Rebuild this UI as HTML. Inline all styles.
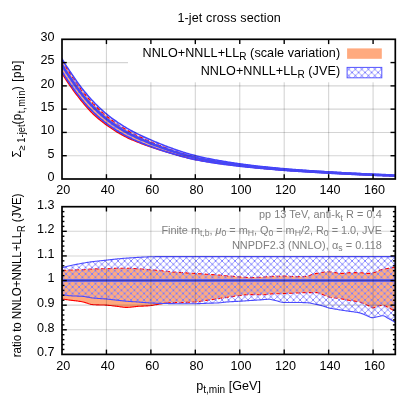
<!DOCTYPE html>
<html><head><meta charset="utf-8"><title>1-jet cross section</title>
<style>
html,body{margin:0;padding:0;background:#fff;}
svg{display:block;will-change:transform;}
text{font-family:"Liberation Sans",sans-serif;font-size:12.6px;fill:#000;}
.g{fill:#7f7f7f;}
</style></head><body>
<svg width="407" height="407" viewBox="0 0 407 407">
<rect width="407" height="407" fill="#fff"/>
<defs>
<pattern id="hx" width="6.5" height="6.5" patternUnits="userSpaceOnUse" x="1.1" y="0.96">
<path d="M-1,-1 L7.5,7.5 M-1,7.5 L7.5,-1" stroke="#9090ff" stroke-width="0.88" fill="none"/>
<path d="M3.25,2.35 l0.9,0.9 l-0.9,0.9 l-0.9,-0.9z M0,-0.9 l0.9,0.9 l-0.9,0.9 l-0.9,-0.9z M6.5,-0.9 l0.9,0.9 l-0.9,0.9 l-0.9,-0.9z M0,5.6 l0.9,0.9 l-0.9,0.9 l-0.9,-0.9z M6.5,5.6 l0.9,0.9 l-0.9,0.9 l-0.9,-0.9z" fill="#6262ff"/>
</pattern>
<clipPath id="c1"><rect x="62.0" y="39.3" width="333.3" height="139.7"/></clipPath>
<clipPath id="c2"><rect x="62.0" y="206.7" width="333.3" height="147.7"/></clipPath>
</defs>

<g clip-path="url(#c1)">
<path d="M62.00,60.23 L63.11,62.11 L64.22,63.96 L65.33,65.79 L66.44,67.59 L67.56,69.37 L68.67,71.13 L69.78,72.87 L70.89,74.59 L72.00,76.28 L73.11,77.95 L74.22,79.61 L75.33,81.25 L76.44,82.88 L77.55,84.48 L78.67,86.06 L79.78,87.60 L80.89,89.11 L82.00,90.59 L83.11,92.02 L84.22,93.40 L85.33,94.74 L86.44,96.06 L87.55,97.35 L88.66,98.62 L89.78,99.87 L90.89,101.10 L92.00,102.30 L93.11,103.49 L94.22,104.66 L95.33,105.81 L96.44,106.94 L97.55,108.04 L98.66,109.12 L99.77,110.18 L100.89,111.21 L102.00,112.22 L103.11,113.21 L104.22,114.18 L105.33,115.12 L106.44,116.05 L107.55,116.94 L108.66,117.82 L109.77,118.68 L110.88,119.52 L112.00,120.34 L113.11,121.15 L114.22,121.94 L115.33,122.72 L116.44,123.48 L117.55,124.24 L118.66,124.98 L119.77,125.71 L120.88,126.43 L121.99,127.13 L123.10,127.82 L124.22,128.49 L125.33,129.16 L126.44,129.81 L127.55,130.45 L128.66,131.09 L129.77,131.71 L130.88,132.32 L131.99,132.92 L133.10,133.51 L134.22,134.09 L135.33,134.65 L136.44,135.21 L137.55,135.75 L138.66,136.29 L139.77,136.82 L140.88,137.34 L141.99,137.86 L143.10,138.37 L144.21,138.88 L145.32,139.38 L146.44,139.88 L147.55,140.37 L148.66,140.85 L149.77,141.34 L150.88,141.82 L151.99,142.30 L153.10,142.77 L154.21,143.23 L155.32,143.70 L156.44,144.15 L157.55,144.60 L158.66,145.05 L159.77,145.49 L160.88,145.92 L161.99,146.36 L163.10,146.78 L164.21,147.21 L165.32,147.63 L166.43,148.04 L167.55,148.45 L168.66,148.85 L169.77,149.25 L170.88,149.64 L171.99,150.03 L173.10,150.41 L174.21,150.79 L175.32,151.17 L176.43,151.55 L177.54,151.92 L178.66,152.28 L179.77,152.64 L180.88,153.00 L181.99,153.35 L183.10,153.69 L184.21,154.03 L185.32,154.36 L186.43,154.69 L187.54,155.01 L188.65,155.32 L189.77,155.63 L190.88,155.93 L191.99,156.22 L193.10,156.51 L194.21,156.78 L195.32,157.05 L196.43,157.32 L197.54,157.58 L198.65,157.83 L199.76,158.08 L200.88,158.33 L201.99,158.57 L203.10,158.81 L204.21,159.04 L205.32,159.27 L206.43,159.49 L207.54,159.71 L208.65,159.93 L209.76,160.14 L210.87,160.35 L211.99,160.56 L213.10,160.76 L214.21,160.97 L215.32,161.16 L216.43,161.36 L217.54,161.55 L218.65,161.74 L219.76,161.93 L220.87,162.11 L221.98,162.30 L223.09,162.48 L224.21,162.66 L225.32,162.83 L226.43,163.00 L227.54,163.17 L228.65,163.34 L229.76,163.51 L230.87,163.67 L231.98,163.83 L233.09,163.99 L234.21,164.15 L235.32,164.31 L236.43,164.46 L237.54,164.62 L238.65,164.77 L239.76,164.91 L240.87,165.06 L241.98,165.21 L243.09,165.35 L244.20,165.50 L245.32,165.64 L246.43,165.77 L247.54,165.91 L248.65,166.04 L249.76,166.17 L250.87,166.30 L251.98,166.42 L253.09,166.55 L254.20,166.67 L255.31,166.78 L256.43,166.90 L257.54,167.01 L258.65,167.13 L259.76,167.24 L260.87,167.35 L261.98,167.46 L263.09,167.57 L264.20,167.67 L265.31,167.78 L266.42,167.88 L267.54,167.98 L268.65,168.09 L269.76,168.19 L270.87,168.29 L271.98,168.38 L273.09,168.48 L274.20,168.58 L275.31,168.68 L276.42,168.77 L277.53,168.87 L278.64,168.96 L279.76,169.06 L280.87,169.15 L281.98,169.24 L283.09,169.33 L284.20,169.42 L285.31,169.51 L286.42,169.60 L287.53,169.69 L288.64,169.78 L289.75,169.87 L290.87,169.96 L291.98,170.04 L293.09,170.12 L294.20,170.21 L295.31,170.29 L296.42,170.36 L297.53,170.44 L298.64,170.52 L299.75,170.59 L300.87,170.67 L301.98,170.74 L303.09,170.81 L304.20,170.89 L305.31,170.96 L306.42,171.03 L307.53,171.09 L308.64,171.15 L309.75,171.21 L310.86,171.26 L311.98,171.32 L313.09,171.38 L314.20,171.44 L315.31,171.50 L316.42,171.56 L317.53,171.62 L318.64,171.69 L319.75,171.75 L320.86,171.81 L321.97,171.87 L323.08,171.93 L324.20,171.99 L325.31,172.06 L326.42,172.12 L327.53,172.18 L328.64,172.25 L329.75,172.31 L330.86,172.38 L331.97,172.45 L333.08,172.52 L334.19,172.59 L335.31,172.65 L336.42,172.72 L337.53,172.78 L338.64,172.85 L339.75,172.91 L340.86,172.98 L341.97,173.04 L343.08,173.09 L344.19,173.15 L345.31,173.21 L346.42,173.26 L347.53,173.32 L348.64,173.37 L349.75,173.43 L350.86,173.48 L351.97,173.54 L353.08,173.60 L354.19,173.65 L355.30,173.71 L356.42,173.76 L357.53,173.81 L358.64,173.87 L359.75,173.92 L360.86,173.98 L361.97,174.03 L363.08,174.08 L364.19,174.14 L365.30,174.19 L366.41,174.24 L367.52,174.30 L368.64,174.35 L369.75,174.40 L370.86,174.44 L371.97,174.49 L373.08,174.53 L374.19,174.57 L375.30,174.62 L376.41,174.66 L377.52,174.70 L378.63,174.74 L379.75,174.78 L380.86,174.82 L381.97,174.86 L383.08,174.90 L384.19,174.95 L385.30,174.99 L386.41,175.03 L387.52,175.08 L388.63,175.12 L389.75,175.16 L390.86,175.20 L391.97,175.24 L393.08,175.29 L394.19,175.33 L395.30,175.37 L395.30,175.99 L394.19,175.94 L393.08,175.90 L391.97,175.85 L390.86,175.80 L389.75,175.76 L388.63,175.71 L387.52,175.66 L386.41,175.62 L385.30,175.57 L384.19,175.52 L383.08,175.48 L381.97,175.44 L380.86,175.40 L379.75,175.36 L378.63,175.32 L377.52,175.29 L376.41,175.26 L375.30,175.22 L374.19,175.19 L373.08,175.15 L371.97,175.10 L370.86,175.05 L369.75,175.00 L368.64,174.94 L367.52,174.89 L366.41,174.83 L365.30,174.78 L364.19,174.72 L363.08,174.67 L361.97,174.62 L360.86,174.56 L359.75,174.51 L358.64,174.46 L357.53,174.41 L356.42,174.35 L355.30,174.30 L354.19,174.25 L353.08,174.20 L351.97,174.15 L350.86,174.09 L349.75,174.04 L348.64,173.98 L347.53,173.93 L346.42,173.87 L345.31,173.81 L344.19,173.75 L343.08,173.70 L341.97,173.64 L340.86,173.58 L339.75,173.52 L338.64,173.46 L337.53,173.40 L336.42,173.34 L335.31,173.29 L334.19,173.23 L333.08,173.17 L331.97,173.11 L330.86,173.04 L329.75,172.98 L328.64,172.92 L327.53,172.85 L326.42,172.78 L325.31,172.71 L324.20,172.63 L323.08,172.56 L321.97,172.49 L320.86,172.41 L319.75,172.34 L318.64,172.26 L317.53,172.19 L316.42,172.13 L315.31,172.06 L314.20,172.00 L313.09,171.94 L311.98,171.87 L310.86,171.81 L309.75,171.74 L308.64,171.68 L307.53,171.61 L306.42,171.54 L305.31,171.48 L304.20,171.41 L303.09,171.34 L301.98,171.28 L300.87,171.21 L299.75,171.14 L298.64,171.07 L297.53,171.00 L296.42,170.93 L295.31,170.86 L294.20,170.79 L293.09,170.71 L291.98,170.64 L290.87,170.57 L289.75,170.49 L288.64,170.41 L287.53,170.33 L286.42,170.25 L285.31,170.17 L284.20,170.09 L283.09,170.01 L281.98,169.92 L280.87,169.84 L279.76,169.75 L278.64,169.67 L277.53,169.58 L276.42,169.49 L275.31,169.40 L274.20,169.31 L273.09,169.22 L271.98,169.13 L270.87,169.04 L269.76,168.95 L268.65,168.85 L267.54,168.76 L266.42,168.67 L265.31,168.58 L264.20,168.48 L263.09,168.38 L261.98,168.28 L260.87,168.17 L259.76,168.07 L258.65,167.96 L257.54,167.85 L256.43,167.74 L255.31,167.63 L254.20,167.51 L253.09,167.40 L251.98,167.28 L250.87,167.17 L249.76,167.05 L248.65,166.93 L247.54,166.81 L246.43,166.70 L245.32,166.58 L244.20,166.46 L243.09,166.34 L241.98,166.22 L240.87,166.09 L239.76,165.97 L238.65,165.84 L237.54,165.72 L236.43,165.59 L235.32,165.46 L234.21,165.33 L233.09,165.20 L231.98,165.07 L230.87,164.93 L229.76,164.80 L228.65,164.66 L227.54,164.52 L226.43,164.38 L225.32,164.24 L224.21,164.10 L223.09,163.95 L221.98,163.81 L220.87,163.66 L219.76,163.51 L218.65,163.36 L217.54,163.21 L216.43,163.05 L215.32,162.89 L214.21,162.73 L213.10,162.56 L211.99,162.39 L210.87,162.22 L209.76,162.05 L208.65,161.87 L207.54,161.69 L206.43,161.51 L205.32,161.33 L204.21,161.14 L203.10,160.95 L201.99,160.76 L200.88,160.57 L199.76,160.37 L198.65,160.17 L197.54,159.96 L196.43,159.75 L195.32,159.53 L194.21,159.30 L193.10,159.06 L191.99,158.82 L190.88,158.57 L189.77,158.32 L188.65,158.06 L187.54,157.79 L186.43,157.52 L185.32,157.24 L184.21,156.95 L183.10,156.66 L181.99,156.36 L180.88,156.06 L179.77,155.76 L178.66,155.45 L177.54,155.13 L176.43,154.82 L175.32,154.50 L174.21,154.17 L173.10,153.85 L171.99,153.52 L170.88,153.19 L169.77,152.86 L168.66,152.53 L167.55,152.20 L166.43,151.87 L165.32,151.54 L164.21,151.21 L163.10,150.88 L161.99,150.54 L160.88,150.21 L159.77,149.87 L158.66,149.52 L157.55,149.17 L156.44,148.82 L155.32,148.46 L154.21,148.11 L153.10,147.74 L151.99,147.37 L150.88,147.00 L149.77,146.61 L148.66,146.22 L147.55,145.83 L146.44,145.43 L145.32,145.02 L144.21,144.61 L143.10,144.20 L141.99,143.78 L140.88,143.36 L139.77,142.94 L138.66,142.50 L137.55,142.07 L136.44,141.63 L135.33,141.18 L134.22,140.73 L133.10,140.27 L131.99,139.80 L130.88,139.33 L129.77,138.83 L128.66,138.32 L127.55,137.80 L126.44,137.26 L125.33,136.70 L124.22,136.12 L123.10,135.52 L121.99,134.91 L120.88,134.28 L119.77,133.64 L118.66,132.98 L117.55,132.32 L116.44,131.65 L115.33,130.96 L114.22,130.25 L113.11,129.54 L112.00,128.80 L110.88,128.05 L109.77,127.29 L108.66,126.52 L107.55,125.73 L106.44,124.94 L105.33,124.12 L104.22,123.30 L103.11,122.45 L102.00,121.59 L100.89,120.71 L99.77,119.81 L98.66,118.89 L97.55,117.94 L96.44,116.98 L95.33,115.99 L94.22,114.98 L93.11,113.95 L92.00,112.88 L90.89,111.76 L89.78,110.59 L88.66,109.38 L87.55,108.14 L86.44,106.87 L85.33,105.58 L84.22,104.27 L83.11,102.94 L82.00,101.60 L80.89,100.23 L79.78,98.84 L78.67,97.42 L77.55,95.97 L76.44,94.51 L75.33,93.02 L74.22,91.52 L73.11,90.00 L72.00,88.46 L70.89,86.90 L69.78,85.31 L68.67,83.69 L67.56,82.05 L66.44,80.39 L65.33,78.70 L64.22,76.98 L63.11,75.24 L62.00,73.47Z" fill="#ffaa7f" stroke="none"/>
<path d="M62.00,73.47 L63.11,75.24 L64.22,76.98 L65.33,78.70 L66.44,80.39 L67.56,82.05 L68.67,83.69 L69.78,85.31 L70.89,86.90 L72.00,88.46 L73.11,90.00 L74.22,91.52 L75.33,93.02 L76.44,94.51 L77.55,95.97 L78.67,97.42 L79.78,98.84 L80.89,100.23 L82.00,101.60 L83.11,102.94 L84.22,104.27 L85.33,105.58 L86.44,106.87 L87.55,108.14 L88.66,109.38 L89.78,110.59 L90.89,111.76 L92.00,112.88 L93.11,113.95 L94.22,114.98 L95.33,115.99 L96.44,116.98 L97.55,117.94 L98.66,118.89 L99.77,119.81 L100.89,120.71 L102.00,121.59 L103.11,122.45 L104.22,123.30 L105.33,124.12 L106.44,124.94 L107.55,125.73 L108.66,126.52 L109.77,127.29 L110.88,128.05 L112.00,128.80 L113.11,129.54 L114.22,130.25 L115.33,130.96 L116.44,131.65 L117.55,132.32 L118.66,132.98 L119.77,133.64 L120.88,134.28 L121.99,134.91 L123.10,135.52 L124.22,136.12 L125.33,136.70 L126.44,137.26 L127.55,137.80 L128.66,138.32 L129.77,138.83 L130.88,139.33 L131.99,139.80 L133.10,140.27 L134.22,140.73 L135.33,141.18 L136.44,141.63 L137.55,142.07 L138.66,142.50 L139.77,142.94 L140.88,143.36 L141.99,143.78 L143.10,144.20 L144.21,144.61 L145.32,145.02 L146.44,145.43 L147.55,145.83 L148.66,146.22 L149.77,146.61 L150.88,147.00 L151.99,147.37 L153.10,147.74 L154.21,148.11 L155.32,148.46 L156.44,148.82 L157.55,149.17 L158.66,149.52 L159.77,149.87 L160.88,150.21 L161.99,150.54 L163.10,150.88 L164.21,151.21 L165.32,151.54 L166.43,151.87 L167.55,152.20 L168.66,152.53 L169.77,152.86 L170.88,153.19 L171.99,153.52 L173.10,153.85 L174.21,154.17 L175.32,154.50 L176.43,154.82 L177.54,155.13 L178.66,155.45 L179.77,155.76 L180.88,156.06 L181.99,156.36 L183.10,156.66 L184.21,156.95 L185.32,157.24 L186.43,157.52 L187.54,157.79 L188.65,158.06 L189.77,158.32 L190.88,158.57 L191.99,158.82 L193.10,159.06 L194.21,159.30 L195.32,159.53 L196.43,159.75 L197.54,159.96 L198.65,160.17 L199.76,160.37 L200.88,160.57 L201.99,160.76 L203.10,160.95 L204.21,161.14 L205.32,161.33 L206.43,161.51 L207.54,161.69 L208.65,161.87 L209.76,162.05 L210.87,162.22 L211.99,162.39 L213.10,162.56 L214.21,162.73 L215.32,162.89 L216.43,163.05 L217.54,163.21 L218.65,163.36 L219.76,163.51 L220.87,163.66 L221.98,163.81 L223.09,163.95 L224.21,164.10 L225.32,164.24 L226.43,164.38 L227.54,164.52 L228.65,164.66 L229.76,164.80 L230.87,164.93 L231.98,165.07 L233.09,165.20 L234.21,165.33 L235.32,165.46 L236.43,165.59 L237.54,165.72 L238.65,165.84 L239.76,165.97 L240.87,166.09 L241.98,166.22 L243.09,166.34 L244.20,166.46 L245.32,166.58 L246.43,166.70 L247.54,166.81 L248.65,166.93 L249.76,167.05 L250.87,167.17 L251.98,167.28 L253.09,167.40 L254.20,167.51 L255.31,167.63 L256.43,167.74 L257.54,167.85 L258.65,167.96 L259.76,168.07 L260.87,168.17 L261.98,168.28 L263.09,168.38 L264.20,168.48 L265.31,168.58 L266.42,168.67 L267.54,168.76 L268.65,168.85 L269.76,168.95 L270.87,169.04 L271.98,169.13 L273.09,169.22 L274.20,169.31 L275.31,169.40 L276.42,169.49 L277.53,169.58 L278.64,169.67 L279.76,169.75 L280.87,169.84 L281.98,169.92 L283.09,170.01 L284.20,170.09 L285.31,170.17 L286.42,170.25 L287.53,170.33 L288.64,170.41 L289.75,170.49 L290.87,170.57 L291.98,170.64 L293.09,170.71 L294.20,170.79 L295.31,170.86 L296.42,170.93 L297.53,171.00 L298.64,171.07 L299.75,171.14 L300.87,171.21 L301.98,171.28 L303.09,171.34 L304.20,171.41 L305.31,171.48 L306.42,171.54 L307.53,171.61 L308.64,171.68 L309.75,171.74 L310.86,171.81 L311.98,171.87 L313.09,171.94 L314.20,172.00 L315.31,172.06 L316.42,172.13 L317.53,172.19 L318.64,172.26 L319.75,172.34 L320.86,172.41 L321.97,172.49 L323.08,172.56 L324.20,172.63 L325.31,172.71 L326.42,172.78 L327.53,172.85 L328.64,172.92 L329.75,172.98 L330.86,173.04 L331.97,173.11 L333.08,173.17 L334.19,173.23 L335.31,173.29 L336.42,173.34 L337.53,173.40 L338.64,173.46 L339.75,173.52 L340.86,173.58 L341.97,173.64 L343.08,173.70 L344.19,173.75 L345.31,173.81 L346.42,173.87 L347.53,173.93 L348.64,173.98 L349.75,174.04 L350.86,174.09 L351.97,174.15 L353.08,174.20 L354.19,174.25 L355.30,174.30 L356.42,174.35 L357.53,174.41 L358.64,174.46 L359.75,174.51 L360.86,174.56 L361.97,174.62 L363.08,174.67 L364.19,174.72 L365.30,174.78 L366.41,174.83 L367.52,174.89 L368.64,174.94 L369.75,175.00 L370.86,175.05 L371.97,175.10 L373.08,175.15 L374.19,175.19 L375.30,175.22 L376.41,175.26 L377.52,175.29 L378.63,175.32 L379.75,175.36 L380.86,175.40 L381.97,175.44 L383.08,175.48 L384.19,175.52 L385.30,175.57 L386.41,175.62 L387.52,175.66 L388.63,175.71 L389.75,175.76 L390.86,175.80 L391.97,175.85 L393.08,175.90 L394.19,175.94 L395.30,175.99" fill="none" stroke="#ff0000" stroke-width="1.3"/>
<path d="M62.00,60.23 L63.11,62.11 L64.22,63.96 L65.33,65.79 L66.44,67.59 L67.56,69.37 L68.67,71.13 L69.78,72.87 L70.89,74.59 L72.00,76.28 L73.11,77.95 L74.22,79.61 L75.33,81.25 L76.44,82.88 L77.55,84.48 L78.67,86.06 L79.78,87.60 L80.89,89.11 L82.00,90.59 L83.11,92.02 L84.22,93.40 L85.33,94.74 L86.44,96.06 L87.55,97.35 L88.66,98.62 L89.78,99.87 L90.89,101.10 L92.00,102.30 L93.11,103.49 L94.22,104.66 L95.33,105.81 L96.44,106.94 L97.55,108.04 L98.66,109.12 L99.77,110.18 L100.89,111.21 L102.00,112.22 L103.11,113.21 L104.22,114.18 L105.33,115.12 L106.44,116.05 L107.55,116.94 L108.66,117.82 L109.77,118.68 L110.88,119.52 L112.00,120.34 L113.11,121.15 L114.22,121.94 L115.33,122.72 L116.44,123.48 L117.55,124.24 L118.66,124.98 L119.77,125.71 L120.88,126.43 L121.99,127.13 L123.10,127.82 L124.22,128.49 L125.33,129.16 L126.44,129.81 L127.55,130.45 L128.66,131.09 L129.77,131.71 L130.88,132.32 L131.99,132.92 L133.10,133.51 L134.22,134.09 L135.33,134.65 L136.44,135.21 L137.55,135.75 L138.66,136.29 L139.77,136.82 L140.88,137.34 L141.99,137.86 L143.10,138.37 L144.21,138.88 L145.32,139.38 L146.44,139.88 L147.55,140.37 L148.66,140.85 L149.77,141.34 L150.88,141.82 L151.99,142.30 L153.10,142.77 L154.21,143.23 L155.32,143.70 L156.44,144.15 L157.55,144.60 L158.66,145.05 L159.77,145.49 L160.88,145.92 L161.99,146.36 L163.10,146.78 L164.21,147.21 L165.32,147.63 L166.43,148.04 L167.55,148.45 L168.66,148.85 L169.77,149.25 L170.88,149.64 L171.99,150.03 L173.10,150.41 L174.21,150.79 L175.32,151.17 L176.43,151.55 L177.54,151.92 L178.66,152.28 L179.77,152.64 L180.88,153.00 L181.99,153.35 L183.10,153.69 L184.21,154.03 L185.32,154.36 L186.43,154.69 L187.54,155.01 L188.65,155.32 L189.77,155.63 L190.88,155.93 L191.99,156.22 L193.10,156.51 L194.21,156.78 L195.32,157.05 L196.43,157.32 L197.54,157.58 L198.65,157.83 L199.76,158.08 L200.88,158.33 L201.99,158.57 L203.10,158.81 L204.21,159.04 L205.32,159.27 L206.43,159.49 L207.54,159.71 L208.65,159.93 L209.76,160.14 L210.87,160.35 L211.99,160.56 L213.10,160.76 L214.21,160.97 L215.32,161.16 L216.43,161.36 L217.54,161.55 L218.65,161.74 L219.76,161.93 L220.87,162.11 L221.98,162.30 L223.09,162.48 L224.21,162.66 L225.32,162.83 L226.43,163.00 L227.54,163.17 L228.65,163.34 L229.76,163.51 L230.87,163.67 L231.98,163.83 L233.09,163.99 L234.21,164.15 L235.32,164.31 L236.43,164.46 L237.54,164.62 L238.65,164.77 L239.76,164.91 L240.87,165.06 L241.98,165.21 L243.09,165.35 L244.20,165.50 L245.32,165.64 L246.43,165.77 L247.54,165.91 L248.65,166.04 L249.76,166.17 L250.87,166.30 L251.98,166.42 L253.09,166.55 L254.20,166.67 L255.31,166.78 L256.43,166.90 L257.54,167.01 L258.65,167.13 L259.76,167.24 L260.87,167.35 L261.98,167.46 L263.09,167.57 L264.20,167.67 L265.31,167.78 L266.42,167.88 L267.54,167.98 L268.65,168.09 L269.76,168.19 L270.87,168.29 L271.98,168.38 L273.09,168.48 L274.20,168.58 L275.31,168.68 L276.42,168.77 L277.53,168.87 L278.64,168.96 L279.76,169.06 L280.87,169.15 L281.98,169.24 L283.09,169.33 L284.20,169.42 L285.31,169.51 L286.42,169.60 L287.53,169.69 L288.64,169.78 L289.75,169.87 L290.87,169.96 L291.98,170.04 L293.09,170.12 L294.20,170.21 L295.31,170.29 L296.42,170.36 L297.53,170.44 L298.64,170.52 L299.75,170.59 L300.87,170.67 L301.98,170.74 L303.09,170.81 L304.20,170.89 L305.31,170.96 L306.42,171.03 L307.53,171.09 L308.64,171.15 L309.75,171.21 L310.86,171.26 L311.98,171.32 L313.09,171.38 L314.20,171.44 L315.31,171.50 L316.42,171.56 L317.53,171.62 L318.64,171.69 L319.75,171.75 L320.86,171.81 L321.97,171.87 L323.08,171.93 L324.20,171.99 L325.31,172.06 L326.42,172.12 L327.53,172.18 L328.64,172.25 L329.75,172.31 L330.86,172.38 L331.97,172.45 L333.08,172.52 L334.19,172.59 L335.31,172.65 L336.42,172.72 L337.53,172.78 L338.64,172.85 L339.75,172.91 L340.86,172.98 L341.97,173.04 L343.08,173.09 L344.19,173.15 L345.31,173.21 L346.42,173.26 L347.53,173.32 L348.64,173.37 L349.75,173.43 L350.86,173.48 L351.97,173.54 L353.08,173.60 L354.19,173.65 L355.30,173.71 L356.42,173.76 L357.53,173.81 L358.64,173.87 L359.75,173.92 L360.86,173.98 L361.97,174.03 L363.08,174.08 L364.19,174.14 L365.30,174.19 L366.41,174.24 L367.52,174.30 L368.64,174.35 L369.75,174.40 L370.86,174.44 L371.97,174.49 L373.08,174.53 L374.19,174.57 L375.30,174.62 L376.41,174.66 L377.52,174.70 L378.63,174.74 L379.75,174.78 L380.86,174.82 L381.97,174.86 L383.08,174.90 L384.19,174.95 L385.30,174.99 L386.41,175.03 L387.52,175.08 L388.63,175.12 L389.75,175.16 L390.86,175.20 L391.97,175.24 L393.08,175.29 L394.19,175.33 L395.30,175.37" fill="none" stroke="#ff0000" stroke-width="1.3" stroke-dasharray="4.2,2.3"/>
<path d="M62.00,58.98 L63.11,60.77 L64.22,62.55 L65.33,64.30 L66.44,66.04 L67.56,67.75 L68.67,69.45 L69.78,71.13 L70.89,72.78 L72.00,74.42 L73.11,76.04 L74.22,77.65 L75.33,79.24 L76.44,80.83 L77.55,82.39 L78.67,83.93 L79.78,85.45 L80.89,86.93 L82.00,88.38 L83.11,89.80 L84.22,91.18 L85.33,92.52 L86.44,93.85 L87.55,95.15 L88.66,96.43 L89.78,97.69 L90.89,98.92 L92.00,100.14 L93.11,101.33 L94.22,102.50 L95.33,103.65 L96.44,104.78 L97.55,105.89 L98.66,106.97 L99.77,108.03 L100.89,109.07 L102.00,110.09 L103.11,111.09 L104.22,112.06 L105.33,113.01 L106.44,113.94 L107.55,114.85 L108.66,115.74 L109.77,116.61 L110.88,117.47 L112.00,118.30 L113.11,119.12 L114.22,119.93 L115.33,120.72 L116.44,121.49 L117.55,122.26 L118.66,123.00 L119.77,123.74 L120.88,124.46 L121.99,125.17 L123.10,125.87 L124.22,126.56 L125.33,127.23 L126.44,127.89 L127.55,128.54 L128.66,129.18 L129.77,129.81 L130.88,130.42 L131.99,131.02 L133.10,131.61 L134.22,132.19 L135.33,132.75 L136.44,133.31 L137.55,133.85 L138.66,134.39 L139.77,134.92 L140.88,135.45 L141.99,135.96 L143.10,136.47 L144.21,136.98 L145.32,137.48 L146.44,137.98 L147.55,138.47 L148.66,138.96 L149.77,139.45 L150.88,139.93 L151.99,140.42 L153.10,140.89 L154.21,141.37 L155.32,141.84 L156.44,142.30 L157.55,142.76 L158.66,143.22 L159.77,143.67 L160.88,144.11 L161.99,144.55 L163.10,144.99 L164.21,145.42 L165.32,145.84 L166.43,146.26 L167.55,146.68 L168.66,147.09 L169.77,147.50 L170.88,147.90 L171.99,148.30 L173.10,148.69 L174.21,149.09 L175.32,149.48 L176.43,149.87 L177.54,150.25 L178.66,150.63 L179.77,151.00 L180.88,151.37 L181.99,151.74 L183.10,152.10 L184.21,152.45 L185.32,152.80 L186.43,153.14 L187.54,153.47 L188.65,153.80 L189.77,154.12 L190.88,154.43 L191.99,154.74 L193.10,155.03 L194.21,155.32 L195.32,155.60 L196.43,155.88 L197.54,156.15 L198.65,156.41 L199.76,156.67 L200.88,156.93 L201.99,157.18 L203.10,157.42 L204.21,157.67 L205.32,157.90 L206.43,158.14 L207.54,158.37 L208.65,158.59 L209.76,158.82 L210.87,159.04 L211.99,159.25 L213.10,159.46 L214.21,159.67 L215.32,159.88 L216.43,160.08 L217.54,160.28 L218.65,160.48 L219.76,160.67 L220.87,160.86 L221.98,161.05 L223.09,161.24 L224.21,161.42 L225.32,161.61 L226.43,161.78 L227.54,161.96 L228.65,162.14 L229.76,162.31 L230.87,162.48 L231.98,162.65 L233.09,162.81 L234.21,162.98 L235.32,163.14 L236.43,163.30 L237.54,163.46 L238.65,163.62 L239.76,163.78 L240.87,163.93 L241.98,164.08 L243.09,164.23 L244.20,164.38 L245.32,164.53 L246.43,164.67 L247.54,164.82 L248.65,164.96 L249.76,165.10 L250.87,165.23 L251.98,165.37 L253.09,165.50 L254.20,165.63 L255.31,165.76 L256.43,165.89 L257.54,166.02 L258.65,166.15 L259.76,166.27 L260.87,166.39 L261.98,166.51 L263.09,166.64 L264.20,166.75 L265.31,166.87 L266.42,166.99 L267.54,167.10 L268.65,167.22 L269.76,167.33 L270.87,167.44 L271.98,167.55 L273.09,167.66 L274.20,167.76 L275.31,167.87 L276.42,167.97 L277.53,168.08 L278.64,168.18 L279.76,168.28 L280.87,168.38 L281.98,168.48 L283.09,168.58 L284.20,168.68 L285.31,168.78 L286.42,168.87 L287.53,168.97 L288.64,169.06 L289.75,169.15 L290.87,169.24 L291.98,169.33 L293.09,169.42 L294.20,169.50 L295.31,169.59 L296.42,169.68 L297.53,169.76 L298.64,169.84 L299.75,169.92 L300.87,170.00 L301.98,170.09 L303.09,170.16 L304.20,170.24 L305.31,170.32 L306.42,170.40 L307.53,170.48 L308.64,170.55 L309.75,170.63 L310.86,170.70 L311.98,170.78 L313.09,170.85 L314.20,170.93 L315.31,171.00 L316.42,171.07 L317.53,171.14 L318.64,171.22 L319.75,171.29 L320.86,171.36 L321.97,171.43 L323.08,171.50 L324.20,171.57 L325.31,171.64 L326.42,171.71 L327.53,171.78 L328.64,171.85 L329.75,171.92 L330.86,171.99 L331.97,172.05 L333.08,172.12 L334.19,172.19 L335.31,172.25 L336.42,172.32 L337.53,172.39 L338.64,172.45 L339.75,172.52 L340.86,172.58 L341.97,172.64 L343.08,172.71 L344.19,172.77 L345.31,172.83 L346.42,172.89 L347.53,172.95 L348.64,173.02 L349.75,173.08 L350.86,173.14 L351.97,173.20 L353.08,173.26 L354.19,173.31 L355.30,173.37 L356.42,173.43 L357.53,173.49 L358.64,173.54 L359.75,173.60 L360.86,173.66 L361.97,173.71 L363.08,173.77 L364.19,173.82 L365.30,173.88 L366.41,173.93 L367.52,173.99 L368.64,174.04 L369.75,174.09 L370.86,174.15 L371.97,174.20 L373.08,174.25 L374.19,174.30 L375.30,174.35 L376.41,174.40 L377.52,174.45 L378.63,174.50 L379.75,174.55 L380.86,174.60 L381.97,174.65 L383.08,174.70 L384.19,174.75 L385.30,174.80 L386.41,174.85 L387.52,174.90 L388.63,174.94 L389.75,174.99 L390.86,175.04 L391.97,175.08 L393.08,175.13 L394.19,175.17 L395.30,175.22 L395.30,176.14 L394.19,176.10 L393.08,176.05 L391.97,176.01 L390.86,175.96 L389.75,175.92 L388.63,175.87 L387.52,175.83 L386.41,175.78 L385.30,175.73 L384.19,175.69 L383.08,175.64 L381.97,175.61 L380.86,175.57 L379.75,175.53 L378.63,175.50 L377.52,175.46 L376.41,175.43 L375.30,175.40 L374.19,175.36 L373.08,175.32 L371.97,175.28 L370.86,175.24 L369.75,175.19 L368.64,175.14 L367.52,175.09 L366.41,175.04 L365.30,174.99 L364.19,174.93 L363.08,174.88 L361.97,174.83 L360.86,174.78 L359.75,174.73 L358.64,174.68 L357.53,174.63 L356.42,174.58 L355.30,174.53 L354.19,174.48 L353.08,174.43 L351.97,174.38 L350.86,174.33 L349.75,174.28 L348.64,174.22 L347.53,174.17 L346.42,174.12 L345.31,174.07 L344.19,174.01 L343.08,173.96 L341.97,173.90 L340.86,173.85 L339.75,173.79 L338.64,173.74 L337.53,173.68 L336.42,173.62 L335.31,173.57 L334.19,173.51 L333.08,173.45 L331.97,173.39 L330.86,173.33 L329.75,173.27 L328.64,173.20 L327.53,173.14 L326.42,173.07 L325.31,173.01 L324.20,172.94 L323.08,172.87 L321.97,172.80 L320.86,172.74 L319.75,172.67 L318.64,172.60 L317.53,172.54 L316.42,172.47 L315.31,172.41 L314.20,172.34 L313.09,172.27 L311.98,172.20 L310.86,172.14 L309.75,172.07 L308.64,172.00 L307.53,171.93 L306.42,171.87 L305.31,171.80 L304.20,171.73 L303.09,171.67 L301.98,171.60 L300.87,171.53 L299.75,171.46 L298.64,171.40 L297.53,171.33 L296.42,171.26 L295.31,171.19 L294.20,171.11 L293.09,171.04 L291.98,170.97 L290.87,170.90 L289.75,170.82 L288.64,170.74 L287.53,170.67 L286.42,170.59 L285.31,170.51 L284.20,170.43 L283.09,170.35 L281.98,170.26 L280.87,170.17 L279.76,170.07 L278.64,169.97 L277.53,169.87 L276.42,169.77 L275.31,169.68 L274.20,169.58 L273.09,169.48 L271.98,169.37 L270.87,169.27 L269.76,169.17 L268.65,169.07 L267.54,168.98 L266.42,168.89 L265.31,168.79 L264.20,168.70 L263.09,168.60 L261.98,168.51 L260.87,168.41 L259.76,168.31 L258.65,168.21 L257.54,168.11 L256.43,168.00 L255.31,167.90 L254.20,167.79 L253.09,167.68 L251.98,167.58 L250.87,167.47 L249.76,167.36 L248.65,167.24 L247.54,167.13 L246.43,167.01 L245.32,166.90 L244.20,166.78 L243.09,166.66 L241.98,166.54 L240.87,166.41 L239.76,166.29 L238.65,166.16 L237.54,166.03 L236.43,165.90 L235.32,165.77 L234.21,165.64 L233.09,165.51 L231.98,165.37 L230.87,165.24 L229.76,165.10 L228.65,164.96 L227.54,164.82 L226.43,164.68 L225.32,164.54 L224.21,164.39 L223.09,164.25 L221.98,164.10 L220.87,163.95 L219.76,163.80 L218.65,163.65 L217.54,163.49 L216.43,163.33 L215.32,163.16 L214.21,162.99 L213.10,162.82 L211.99,162.65 L210.87,162.47 L209.76,162.29 L208.65,162.11 L207.54,161.93 L206.43,161.74 L205.32,161.55 L204.21,161.36 L203.10,161.16 L201.99,160.96 L200.88,160.76 L199.76,160.55 L198.65,160.34 L197.54,160.12 L196.43,159.90 L195.32,159.68 L194.21,159.45 L193.10,159.21 L191.99,158.96 L190.88,158.71 L189.77,158.45 L188.65,158.19 L187.54,157.92 L186.43,157.64 L185.32,157.36 L184.21,157.07 L183.10,156.78 L181.99,156.49 L180.88,156.18 L179.77,155.88 L178.66,155.57 L177.54,155.26 L176.43,154.94 L175.32,154.62 L174.21,154.29 L173.10,153.97 L171.99,153.64 L170.88,153.31 L169.77,152.97 L168.66,152.63 L167.55,152.29 L166.43,151.95 L165.32,151.60 L164.21,151.24 L163.10,150.88 L161.99,150.52 L160.88,150.15 L159.77,149.78 L158.66,149.40 L157.55,149.02 L156.44,148.63 L155.32,148.24 L154.21,147.85 L153.10,147.44 L151.99,147.04 L150.88,146.63 L149.77,146.21 L148.66,145.79 L147.55,145.37 L146.44,144.94 L145.32,144.51 L144.21,144.07 L143.10,143.62 L141.99,143.18 L140.88,142.72 L139.77,142.26 L138.66,141.80 L137.55,141.32 L136.44,140.85 L135.33,140.36 L134.22,139.86 L133.10,139.36 L131.99,138.85 L130.88,138.32 L129.77,137.78 L128.66,137.23 L127.55,136.67 L126.44,136.09 L125.33,135.50 L124.22,134.90 L123.10,134.28 L121.99,133.66 L120.88,133.01 L119.77,132.36 L118.66,131.70 L117.55,131.02 L116.44,130.33 L115.33,129.62 L114.22,128.90 L113.11,128.16 L112.00,127.41 L110.88,126.65 L109.77,125.87 L108.66,125.07 L107.55,124.26 L106.44,123.43 L105.33,122.59 L104.22,121.73 L103.11,120.85 L102.00,119.95 L100.89,119.04 L99.77,118.10 L98.66,117.14 L97.55,116.16 L96.44,115.16 L95.33,114.13 L94.22,113.08 L93.11,112.00 L92.00,110.90 L90.89,109.76 L89.78,108.59 L88.66,107.39 L87.55,106.17 L86.44,104.92 L85.33,103.65 L84.22,102.37 L83.11,101.06 L82.00,99.73 L80.89,98.38 L79.78,96.99 L78.67,95.58 L77.55,94.15 L76.44,92.69 L75.33,91.21 L74.22,89.71 L73.11,88.20 L72.00,86.66 L70.89,85.10 L69.78,83.50 L68.67,81.87 L67.56,80.21 L66.44,78.52 L65.33,76.79 L64.22,75.03 L63.11,73.24 L62.00,71.41Z" fill="url(#hx)" stroke="#4242ff" stroke-width="1.5"/>
<path d="M62.00,64.91 L63.11,66.75 L64.22,68.56 L65.33,70.34 L66.44,72.10 L67.56,73.84 L68.67,75.54 L69.78,77.23 L70.89,78.89 L72.00,80.53 L73.11,82.14 L74.22,83.74 L75.33,85.32 L76.44,86.88 L77.55,88.43 L78.67,89.94 L79.78,91.43 L80.89,92.89 L82.00,94.31 L83.11,95.70 L84.22,97.04 L85.33,98.36 L86.44,99.64 L87.55,100.91 L88.66,102.15 L89.78,103.37 L90.89,104.56 L92.00,105.73 L93.11,106.88 L94.22,108.01 L95.33,109.11 L96.44,110.19 L97.55,111.25 L98.66,112.28 L99.77,113.30 L100.89,114.29 L102.00,115.26 L103.11,116.21 L104.22,117.14 L105.33,118.04 L106.44,118.93 L107.55,119.80 L108.66,120.64 L109.77,121.48 L110.88,122.29 L112.00,123.09 L113.11,123.87 L114.22,124.64 L115.33,125.39 L116.44,126.12 L117.55,126.85 L118.66,127.55 L119.77,128.25 L120.88,128.93 L121.99,129.60 L123.10,130.26 L124.22,130.90 L125.33,131.53 L126.44,132.15 L127.55,132.76 L128.66,133.36 L129.77,133.95 L130.88,134.53 L131.99,135.09 L133.10,135.64 L134.22,136.18 L135.33,136.70 L136.44,137.22 L137.55,137.73 L138.66,138.24 L139.77,138.73 L140.88,139.22 L141.99,139.70 L143.10,140.17 L144.21,140.64 L145.32,141.11 L146.44,141.57 L147.55,142.03 L148.66,142.48 L149.77,142.93 L150.88,143.38 L151.99,143.82 L153.10,144.26 L154.21,144.69 L155.32,145.12 L156.44,145.55 L157.55,145.97 L158.66,146.38 L159.77,146.79 L160.88,147.20 L161.99,147.60 L163.10,148.00 L164.21,148.39 L165.32,148.78 L166.43,149.16 L167.55,149.54 L168.66,149.91 L169.77,150.28 L170.88,150.65 L171.99,151.01 L173.10,151.37 L174.21,151.73 L175.32,152.09 L176.43,152.44 L177.54,152.79 L178.66,153.14 L179.77,153.48 L180.88,153.82 L181.99,154.15 L183.10,154.48 L184.21,154.80 L185.32,155.12 L186.43,155.43 L187.54,155.73 L188.65,156.03 L189.77,156.32 L190.88,156.60 L191.99,156.88 L193.10,157.15 L194.21,157.42 L195.32,157.67 L196.43,157.92 L197.54,158.17 L198.65,158.41 L199.76,158.65 L200.88,158.88 L201.99,159.11 L203.10,159.33 L204.21,159.55 L205.32,159.77 L206.43,159.98 L207.54,160.19 L208.65,160.40 L209.76,160.60 L210.87,160.80 L211.99,161.00 L213.10,161.19 L214.21,161.38 L215.32,161.57 L216.43,161.75 L217.54,161.94 L218.65,162.12 L219.76,162.29 L220.87,162.47 L221.98,162.64 L223.09,162.81 L224.21,162.98 L225.32,163.14 L226.43,163.31 L227.54,163.47 L228.65,163.63 L229.76,163.78 L230.87,163.94 L231.98,164.09 L233.09,164.25 L234.21,164.40 L235.32,164.54 L236.43,164.69 L237.54,164.84 L238.65,164.98 L239.76,165.12 L240.87,165.26 L241.98,165.40 L243.09,165.54 L244.20,165.67 L245.32,165.81 L246.43,165.94 L247.54,166.07 L248.65,166.20 L249.76,166.32 L250.87,166.45 L251.98,166.57 L253.09,166.70 L254.20,166.82 L255.31,166.93 L256.43,167.05 L257.54,167.17 L258.65,167.28 L259.76,167.40 L260.87,167.51 L261.98,167.62 L263.09,167.73 L264.20,167.84 L265.31,167.94 L266.42,168.05 L267.54,168.15 L268.65,168.26 L269.76,168.36 L270.87,168.46 L271.98,168.56 L273.09,168.66 L274.20,168.76 L275.31,168.85 L276.42,168.95 L277.53,169.04 L278.64,169.14 L279.76,169.23 L280.87,169.32 L281.98,169.41 L283.09,169.50 L284.20,169.59 L285.31,169.68 L286.42,169.77 L287.53,169.85 L288.64,169.94 L289.75,170.02 L290.87,170.10 L291.98,170.18 L293.09,170.27 L294.20,170.34 L295.31,170.42 L296.42,170.50 L297.53,170.58 L298.64,170.65 L299.75,170.73 L300.87,170.80 L301.98,170.87 L303.09,170.95 L304.20,171.02 L305.31,171.09 L306.42,171.16 L307.53,171.23 L308.64,171.30 L309.75,171.37 L310.86,171.44 L311.98,171.50 L313.09,171.57 L314.20,171.64 L315.31,171.71 L316.42,171.77 L317.53,171.84 L318.64,171.90 L319.75,171.97 L320.86,172.03 L321.97,172.10 L323.08,172.16 L324.20,172.23 L325.31,172.29 L326.42,172.35 L327.53,172.42 L328.64,172.48 L329.75,172.54 L330.86,172.61 L331.97,172.67 L333.08,172.73 L334.19,172.79 L335.31,172.85 L336.42,172.91 L337.53,172.97 L338.64,173.03 L339.75,173.09 L340.86,173.15 L341.97,173.21 L343.08,173.26 L344.19,173.32 L345.31,173.38 L346.42,173.43 L347.53,173.49 L348.64,173.54 L349.75,173.60 L350.86,173.65 L351.97,173.71 L353.08,173.76 L354.19,173.82 L355.30,173.87 L356.42,173.92 L357.53,173.98 L358.64,174.03 L359.75,174.08 L360.86,174.13 L361.97,174.18 L363.08,174.23 L364.19,174.28 L365.30,174.33 L366.41,174.38 L367.52,174.43 L368.64,174.48 L369.75,174.53 L370.86,174.57 L371.97,174.62 L373.08,174.67 L374.19,174.72 L375.30,174.76 L376.41,174.81 L377.52,174.86 L378.63,174.90 L379.75,174.95 L380.86,174.99 L381.97,175.04 L383.08,175.08 L384.19,175.13 L385.30,175.17 L386.41,175.22 L387.52,175.26 L388.63,175.30 L389.75,175.35 L390.86,175.39 L391.97,175.43 L393.08,175.47 L394.19,175.51 L395.30,175.55" fill="none" stroke="#4646f4" stroke-width="2.6"/>
</g>
<g clip-path="url(#c2)">
<path d="M62.00,270.46 L63.11,270.38 L64.22,270.31 L65.33,270.24 L66.44,270.17 L67.56,270.11 L68.67,270.05 L69.78,270.00 L70.89,269.96 L72.00,269.93 L73.11,269.91 L74.22,269.88 L75.33,269.86 L76.44,269.84 L77.55,269.82 L78.67,269.80 L79.78,269.78 L80.89,269.75 L82.00,269.72 L83.11,269.67 L84.22,269.61 L85.33,269.53 L86.44,269.44 L87.55,269.34 L88.66,269.25 L89.78,269.16 L90.89,269.09 L92.00,269.02 L93.11,268.98 L94.22,268.95 L95.33,268.92 L96.44,268.90 L97.55,268.88 L98.66,268.87 L99.77,268.85 L100.89,268.84 L102.00,268.82 L103.11,268.80 L104.22,268.78 L105.33,268.76 L106.44,268.73 L107.55,268.70 L108.66,268.65 L109.77,268.58 L110.88,268.52 L112.00,268.45 L113.11,268.39 L114.22,268.33 L115.33,268.28 L116.44,268.25 L117.55,268.24 L118.66,268.24 L119.77,268.24 L120.88,268.24 L121.99,268.24 L123.10,268.24 L124.22,268.24 L125.33,268.24 L126.44,268.24 L127.55,268.25 L128.66,268.27 L129.77,268.31 L130.88,268.35 L131.99,268.41 L133.10,268.47 L134.22,268.54 L135.33,268.60 L136.44,268.67 L137.55,268.73 L138.66,268.80 L139.77,268.87 L140.88,268.95 L141.99,269.04 L143.10,269.13 L144.21,269.22 L145.32,269.32 L146.44,269.41 L147.55,269.51 L148.66,269.61 L149.77,269.70 L150.88,269.79 L151.99,269.89 L153.10,269.98 L154.21,270.08 L155.32,270.17 L156.44,270.27 L157.55,270.37 L158.66,270.47 L159.77,270.57 L160.88,270.68 L161.99,270.79 L163.10,270.92 L164.21,271.04 L165.32,271.18 L166.43,271.31 L167.55,271.45 L168.66,271.57 L169.77,271.70 L170.88,271.81 L171.99,271.92 L173.10,272.01 L174.21,272.09 L175.32,272.17 L176.43,272.25 L177.54,272.32 L178.66,272.39 L179.77,272.46 L180.88,272.53 L181.99,272.60 L183.10,272.67 L184.21,272.74 L185.32,272.81 L186.43,272.88 L187.54,272.94 L188.65,273.01 L189.77,273.07 L190.88,273.14 L191.99,273.20 L193.10,273.27 L194.21,273.34 L195.32,273.41 L196.43,273.49 L197.54,273.57 L198.65,273.65 L199.76,273.73 L200.88,273.82 L201.99,273.90 L203.10,273.99 L204.21,274.07 L205.32,274.15 L206.43,274.23 L207.54,274.30 L208.65,274.37 L209.76,274.44 L210.87,274.51 L211.99,274.58 L213.10,274.65 L214.21,274.73 L215.32,274.81 L216.43,274.89 L217.54,274.98 L218.65,275.07 L219.76,275.17 L220.87,275.27 L221.98,275.38 L223.09,275.49 L224.21,275.59 L225.32,275.70 L226.43,275.80 L227.54,275.89 L228.65,275.98 L229.76,276.08 L230.87,276.17 L231.98,276.26 L233.09,276.35 L234.21,276.44 L235.32,276.52 L236.43,276.61 L237.54,276.69 L238.65,276.78 L239.76,276.86 L240.87,276.94 L241.98,277.04 L243.09,277.13 L244.20,277.23 L245.32,277.33 L246.43,277.41 L247.54,277.49 L248.65,277.54 L249.76,277.58 L250.87,277.60 L251.98,277.59 L253.09,277.56 L254.20,277.53 L255.31,277.48 L256.43,277.42 L257.54,277.36 L258.65,277.30 L259.76,277.23 L260.87,277.17 L261.98,277.10 L263.09,277.04 L264.20,276.96 L265.31,276.88 L266.42,276.79 L267.54,276.71 L268.65,276.62 L269.76,276.54 L270.87,276.47 L271.98,276.41 L273.09,276.37 L274.20,276.33 L275.31,276.29 L276.42,276.26 L277.53,276.23 L278.64,276.20 L279.76,276.17 L280.87,276.15 L281.98,276.13 L283.09,276.12 L284.20,276.12 L285.31,276.13 L286.42,276.17 L287.53,276.23 L288.64,276.29 L289.75,276.37 L290.87,276.44 L291.98,276.50 L293.09,276.56 L294.20,276.60 L295.31,276.61 L296.42,276.61 L297.53,276.60 L298.64,276.59 L299.75,276.57 L300.87,276.55 L301.98,276.52 L303.09,276.49 L304.20,276.45 L305.31,276.41 L306.42,276.37 L307.53,276.20 L308.64,275.87 L309.75,275.43 L310.86,274.95 L311.98,274.50 L313.09,274.15 L314.20,273.88 L315.31,273.63 L316.42,273.39 L317.53,273.17 L318.64,272.96 L319.75,272.77 L320.86,272.59 L321.97,272.43 L323.08,272.26 L324.20,272.10 L325.31,271.94 L326.42,271.81 L327.53,271.72 L328.64,271.69 L329.75,271.73 L330.86,271.85 L331.97,272.02 L333.08,272.22 L334.19,272.43 L335.31,272.61 L336.42,272.77 L337.53,272.95 L338.64,273.14 L339.75,273.29 L340.86,273.39 L341.97,273.40 L343.08,273.34 L344.19,273.22 L345.31,273.07 L346.42,272.92 L347.53,272.79 L348.64,272.70 L349.75,272.67 L350.86,272.67 L351.97,272.67 L353.08,272.67 L354.19,272.67 L355.30,272.67 L356.42,272.67 L357.53,272.67 L358.64,272.67 L359.75,272.68 L360.86,272.72 L361.97,272.81 L363.08,272.92 L364.19,273.04 L365.30,273.17 L366.41,273.28 L367.52,273.36 L368.64,273.41 L369.75,273.39 L370.86,273.25 L371.97,273.03 L373.08,272.75 L374.19,272.43 L375.30,272.11 L376.41,271.69 L377.52,271.16 L378.63,270.61 L379.75,270.10 L380.86,269.72 L381.97,269.45 L383.08,269.21 L384.19,269.00 L385.30,268.81 L386.41,268.63 L387.52,268.46 L388.63,268.28 L389.75,268.10 L390.86,267.92 L391.97,267.74 L393.08,267.58 L394.19,267.41 L395.30,267.26 L395.30,311.57 L394.19,310.85 L393.08,310.17 L391.97,309.51 L390.86,308.89 L389.75,308.31 L388.63,307.77 L387.52,307.18 L386.41,306.57 L385.30,306.02 L384.19,305.61 L383.08,305.42 L381.97,305.45 L380.86,305.57 L379.75,305.75 L378.63,305.95 L377.52,306.31 L376.41,306.81 L375.30,307.32 L374.19,307.71 L373.08,307.87 L371.97,307.68 L370.86,307.18 L369.75,306.51 L368.64,305.78 L367.52,305.13 L366.41,304.63 L365.30,304.14 L364.19,303.66 L363.08,303.19 L361.97,302.76 L360.86,302.39 L359.75,302.07 L358.64,301.83 L357.53,301.62 L356.42,301.44 L355.30,301.29 L354.19,301.14 L353.08,301.00 L351.97,300.86 L350.86,300.70 L349.75,300.53 L348.64,300.33 L347.53,300.11 L346.42,299.88 L345.31,299.64 L344.19,299.39 L343.08,299.15 L341.97,298.93 L340.86,298.71 L339.75,298.52 L338.64,298.35 L337.53,298.21 L336.42,298.08 L335.31,297.97 L334.19,297.85 L333.08,297.73 L331.97,297.59 L330.86,297.44 L329.75,297.26 L328.64,297.04 L327.53,296.73 L326.42,296.30 L325.31,295.80 L324.20,295.27 L323.08,294.77 L321.97,294.34 L320.86,293.92 L319.75,293.48 L318.64,293.07 L317.53,292.76 L316.42,292.62 L315.31,292.61 L314.20,292.61 L313.09,292.61 L311.98,292.61 L310.86,292.61 L309.75,292.61 L308.64,292.61 L307.53,292.61 L306.42,292.61 L305.31,292.62 L304.20,292.65 L303.09,292.69 L301.98,292.74 L300.87,292.80 L299.75,292.86 L298.64,292.93 L297.53,292.99 L296.42,293.05 L295.31,293.10 L294.20,293.16 L293.09,293.21 L291.98,293.26 L290.87,293.32 L289.75,293.37 L288.64,293.42 L287.53,293.47 L286.42,293.52 L285.31,293.56 L284.20,293.60 L283.09,293.63 L281.98,293.65 L280.87,293.67 L279.76,293.69 L278.64,293.71 L277.53,293.73 L276.42,293.75 L275.31,293.78 L274.20,293.81 L273.09,293.84 L271.98,293.90 L270.87,294.00 L269.76,294.11 L268.65,294.25 L267.54,294.38 L266.42,294.52 L265.31,294.64 L264.20,294.74 L263.09,294.80 L261.98,294.83 L260.87,294.82 L259.76,294.80 L258.65,294.77 L257.54,294.74 L256.43,294.70 L255.31,294.67 L254.20,294.63 L253.09,294.61 L251.98,294.59 L250.87,294.58 L249.76,294.60 L248.65,294.65 L247.54,294.72 L246.43,294.81 L245.32,294.92 L244.20,295.05 L243.09,295.18 L241.98,295.31 L240.87,295.44 L239.76,295.57 L238.65,295.69 L237.54,295.82 L236.43,295.97 L235.32,296.12 L234.21,296.27 L233.09,296.43 L231.98,296.59 L230.87,296.76 L229.76,296.92 L228.65,297.09 L227.54,297.26 L226.43,297.42 L225.32,297.60 L224.21,297.77 L223.09,297.95 L221.98,298.14 L220.87,298.32 L219.76,298.50 L218.65,298.68 L217.54,298.85 L216.43,299.01 L215.32,299.17 L214.21,299.32 L213.10,299.47 L211.99,299.61 L210.87,299.76 L209.76,299.90 L208.65,300.04 L207.54,300.19 L206.43,300.34 L205.32,300.49 L204.21,300.66 L203.10,300.84 L201.99,301.03 L200.88,301.23 L199.76,301.42 L198.65,301.59 L197.54,301.75 L196.43,301.87 L195.32,301.97 L194.21,302.03 L193.10,302.10 L191.99,302.15 L190.88,302.21 L189.77,302.25 L188.65,302.29 L187.54,302.33 L186.43,302.37 L185.32,302.40 L184.21,302.43 L183.10,302.46 L181.99,302.48 L180.88,302.50 L179.77,302.52 L178.66,302.54 L177.54,302.55 L176.43,302.56 L175.32,302.58 L174.21,302.59 L173.10,302.61 L171.99,302.63 L170.88,302.65 L169.77,302.68 L168.66,302.71 L167.55,302.79 L166.43,302.90 L165.32,303.05 L164.21,303.23 L163.10,303.43 L161.99,303.63 L160.88,303.84 L159.77,304.04 L158.66,304.22 L157.55,304.41 L156.44,304.61 L155.32,304.83 L154.21,305.04 L153.10,305.24 L151.99,305.42 L150.88,305.57 L149.77,305.68 L148.66,305.77 L147.55,305.85 L146.44,305.92 L145.32,305.98 L144.21,306.04 L143.10,306.09 L141.99,306.14 L140.88,306.20 L139.77,306.26 L138.66,306.32 L137.55,306.40 L136.44,306.49 L135.33,306.60 L134.22,306.73 L133.10,306.86 L131.99,306.99 L130.88,307.11 L129.77,307.22 L128.66,307.31 L127.55,307.36 L126.44,307.38 L125.33,307.35 L124.22,307.27 L123.10,307.16 L121.99,307.01 L120.88,306.85 L119.77,306.69 L118.66,306.53 L117.55,306.40 L116.44,306.27 L115.33,306.13 L114.22,305.99 L113.11,305.85 L112.00,305.71 L110.88,305.57 L109.77,305.45 L108.66,305.34 L107.55,305.24 L106.44,305.17 L105.33,305.11 L104.22,305.06 L103.11,305.03 L102.00,304.99 L100.89,304.96 L99.77,304.94 L98.66,304.91 L97.55,304.88 L96.44,304.84 L95.33,304.80 L94.22,304.74 L93.11,304.67 L92.00,304.55 L90.89,304.34 L89.78,304.05 L88.66,303.72 L87.55,303.35 L86.44,302.97 L85.33,302.60 L84.22,302.26 L83.11,301.96 L82.00,301.72 L80.89,301.53 L79.78,301.36 L78.67,301.21 L77.55,301.06 L76.44,300.92 L75.33,300.79 L74.22,300.66 L73.11,300.53 L72.00,300.39 L70.89,300.24 L69.78,300.09 L68.67,299.94 L67.56,299.79 L66.44,299.63 L65.33,299.48 L64.22,299.32 L63.11,299.17 L62.00,299.01Z" fill="#ffaa7f" stroke="none"/>
<path d="M62.00,299.01 L63.11,299.17 L64.22,299.32 L65.33,299.48 L66.44,299.63 L67.56,299.79 L68.67,299.94 L69.78,300.09 L70.89,300.24 L72.00,300.39 L73.11,300.53 L74.22,300.66 L75.33,300.79 L76.44,300.92 L77.55,301.06 L78.67,301.21 L79.78,301.36 L80.89,301.53 L82.00,301.72 L83.11,301.96 L84.22,302.26 L85.33,302.60 L86.44,302.97 L87.55,303.35 L88.66,303.72 L89.78,304.05 L90.89,304.34 L92.00,304.55 L93.11,304.67 L94.22,304.74 L95.33,304.80 L96.44,304.84 L97.55,304.88 L98.66,304.91 L99.77,304.94 L100.89,304.96 L102.00,304.99 L103.11,305.03 L104.22,305.06 L105.33,305.11 L106.44,305.17 L107.55,305.24 L108.66,305.34 L109.77,305.45 L110.88,305.57 L112.00,305.71 L113.11,305.85 L114.22,305.99 L115.33,306.13 L116.44,306.27 L117.55,306.40 L118.66,306.53 L119.77,306.69 L120.88,306.85 L121.99,307.01 L123.10,307.16 L124.22,307.27 L125.33,307.35 L126.44,307.38 L127.55,307.36 L128.66,307.31 L129.77,307.22 L130.88,307.11 L131.99,306.99 L133.10,306.86 L134.22,306.73 L135.33,306.60 L136.44,306.49 L137.55,306.40 L138.66,306.32 L139.77,306.26 L140.88,306.20 L141.99,306.14 L143.10,306.09 L144.21,306.04 L145.32,305.98 L146.44,305.92 L147.55,305.85 L148.66,305.77 L149.77,305.68 L150.88,305.57 L151.99,305.42 L153.10,305.24 L154.21,305.04 L155.32,304.83 L156.44,304.61 L157.55,304.41 L158.66,304.22 L159.77,304.04 L160.88,303.84 L161.99,303.63 L163.10,303.43 L164.21,303.23 L165.32,303.05 L166.43,302.90" fill="none" stroke="#ff0000" stroke-width="1.1"/>
<path d="M166.43,302.90 L167.55,302.79 L168.66,302.71 L169.77,302.68 L170.88,302.65 L171.99,302.63 L173.10,302.61 L174.21,302.59 L175.32,302.58 L176.43,302.56 L177.54,302.55 L178.66,302.54 L179.77,302.52 L180.88,302.50 L181.99,302.48 L183.10,302.46 L184.21,302.43 L185.32,302.40 L186.43,302.37 L187.54,302.33 L188.65,302.29 L189.77,302.25 L190.88,302.21 L191.99,302.15 L193.10,302.10 L194.21,302.03 L195.32,301.97 L196.43,301.87 L197.54,301.75 L198.65,301.59 L199.76,301.42 L200.88,301.23 L201.99,301.03 L203.10,300.84 L204.21,300.66 L205.32,300.49 L206.43,300.34 L207.54,300.19 L208.65,300.04 L209.76,299.90 L210.87,299.76 L211.99,299.61 L213.10,299.47 L214.21,299.32 L215.32,299.17 L216.43,299.01 L217.54,298.85 L218.65,298.68 L219.76,298.50 L220.87,298.32 L221.98,298.14 L223.09,297.95 L224.21,297.77 L225.32,297.60 L226.43,297.42 L227.54,297.26 L228.65,297.09 L229.76,296.92 L230.87,296.76 L231.98,296.59 L233.09,296.43 L234.21,296.27 L235.32,296.12 L236.43,295.97 L237.54,295.82 L238.65,295.69 L239.76,295.57 L240.87,295.44 L241.98,295.31 L243.09,295.18 L244.20,295.05 L245.32,294.92 L246.43,294.81 L247.54,294.72 L248.65,294.65 L249.76,294.60 L250.87,294.58 L251.98,294.59 L253.09,294.61 L254.20,294.63 L255.31,294.67 L256.43,294.70 L257.54,294.74 L258.65,294.77 L259.76,294.80 L260.87,294.82 L261.98,294.83 L263.09,294.80 L264.20,294.74 L265.31,294.64 L266.42,294.52 L267.54,294.38 L268.65,294.25 L269.76,294.11 L270.87,294.00 L271.98,293.90 L273.09,293.84 L274.20,293.81 L275.31,293.78 L276.42,293.75 L277.53,293.73 L278.64,293.71 L279.76,293.69 L280.87,293.67 L281.98,293.65 L283.09,293.63 L284.20,293.60 L285.31,293.56 L286.42,293.52 L287.53,293.47 L288.64,293.42 L289.75,293.37 L290.87,293.32 L291.98,293.26 L293.09,293.21 L294.20,293.16 L295.31,293.10 L296.42,293.05 L297.53,292.99 L298.64,292.93 L299.75,292.86 L300.87,292.80 L301.98,292.74 L303.09,292.69 L304.20,292.65 L305.31,292.62 L306.42,292.61 L307.53,292.61 L308.64,292.61 L309.75,292.61 L310.86,292.61 L311.98,292.61 L313.09,292.61 L314.20,292.61 L315.31,292.61 L316.42,292.62 L317.53,292.76 L318.64,293.07 L319.75,293.48 L320.86,293.92 L321.97,294.34 L323.08,294.77 L324.20,295.27 L325.31,295.80 L326.42,296.30 L327.53,296.73 L328.64,297.04 L329.75,297.26 L330.86,297.44 L331.97,297.59 L333.08,297.73 L334.19,297.85 L335.31,297.97 L336.42,298.08 L337.53,298.21 L338.64,298.35 L339.75,298.52 L340.86,298.71 L341.97,298.93 L343.08,299.15 L344.19,299.39 L345.31,299.64 L346.42,299.88 L347.53,300.11 L348.64,300.33 L349.75,300.53 L350.86,300.70 L351.97,300.86 L353.08,301.00 L354.19,301.14 L355.30,301.29 L356.42,301.44 L357.53,301.62 L358.64,301.83 L359.75,302.07 L360.86,302.39 L361.97,302.76 L363.08,303.19 L364.19,303.66 L365.30,304.14 L366.41,304.63 L367.52,305.13 L368.64,305.78 L369.75,306.51 L370.86,307.18 L371.97,307.68 L373.08,307.87 L374.19,307.71 L375.30,307.32 L376.41,306.81 L377.52,306.31 L378.63,305.95 L379.75,305.75 L380.86,305.57 L381.97,305.45 L383.08,305.42 L384.19,305.61 L385.30,306.02 L386.41,306.57 L387.52,307.18 L388.63,307.77 L389.75,308.31 L390.86,308.89 L391.97,309.51 L393.08,310.17 L394.19,310.85 L395.30,311.57" fill="none" stroke="#ff0000" stroke-width="1.1" stroke-dasharray="4.2,2.3"/>
<path d="M62.00,270.46 L63.11,270.38 L64.22,270.31 L65.33,270.24 L66.44,270.17 L67.56,270.11 L68.67,270.05 L69.78,270.00 L70.89,269.96 L72.00,269.93 L73.11,269.91 L74.22,269.88 L75.33,269.86 L76.44,269.84 L77.55,269.82 L78.67,269.80 L79.78,269.78 L80.89,269.75 L82.00,269.72 L83.11,269.67 L84.22,269.61 L85.33,269.53 L86.44,269.44 L87.55,269.34 L88.66,269.25 L89.78,269.16 L90.89,269.09 L92.00,269.02 L93.11,268.98 L94.22,268.95 L95.33,268.92 L96.44,268.90 L97.55,268.88 L98.66,268.87 L99.77,268.85 L100.89,268.84 L102.00,268.82 L103.11,268.80 L104.22,268.78 L105.33,268.76 L106.44,268.73 L107.55,268.70 L108.66,268.65 L109.77,268.58 L110.88,268.52 L112.00,268.45 L113.11,268.39 L114.22,268.33 L115.33,268.28 L116.44,268.25 L117.55,268.24 L118.66,268.24 L119.77,268.24 L120.88,268.24 L121.99,268.24 L123.10,268.24 L124.22,268.24 L125.33,268.24 L126.44,268.24 L127.55,268.25 L128.66,268.27 L129.77,268.31 L130.88,268.35 L131.99,268.41 L133.10,268.47 L134.22,268.54 L135.33,268.60 L136.44,268.67 L137.55,268.73 L138.66,268.80 L139.77,268.87 L140.88,268.95 L141.99,269.04 L143.10,269.13 L144.21,269.22 L145.32,269.32 L146.44,269.41 L147.55,269.51 L148.66,269.61 L149.77,269.70 L150.88,269.79 L151.99,269.89 L153.10,269.98 L154.21,270.08 L155.32,270.17 L156.44,270.27 L157.55,270.37 L158.66,270.47 L159.77,270.57 L160.88,270.68 L161.99,270.79 L163.10,270.92 L164.21,271.04 L165.32,271.18 L166.43,271.31 L167.55,271.45 L168.66,271.57 L169.77,271.70 L170.88,271.81 L171.99,271.92 L173.10,272.01 L174.21,272.09 L175.32,272.17 L176.43,272.25 L177.54,272.32 L178.66,272.39 L179.77,272.46 L180.88,272.53 L181.99,272.60 L183.10,272.67 L184.21,272.74 L185.32,272.81 L186.43,272.88 L187.54,272.94 L188.65,273.01 L189.77,273.07 L190.88,273.14 L191.99,273.20 L193.10,273.27 L194.21,273.34 L195.32,273.41 L196.43,273.49 L197.54,273.57 L198.65,273.65 L199.76,273.73 L200.88,273.82 L201.99,273.90 L203.10,273.99 L204.21,274.07 L205.32,274.15 L206.43,274.23 L207.54,274.30 L208.65,274.37 L209.76,274.44 L210.87,274.51 L211.99,274.58 L213.10,274.65 L214.21,274.73 L215.32,274.81 L216.43,274.89 L217.54,274.98 L218.65,275.07 L219.76,275.17 L220.87,275.27 L221.98,275.38 L223.09,275.49 L224.21,275.59 L225.32,275.70 L226.43,275.80 L227.54,275.89 L228.65,275.98 L229.76,276.08 L230.87,276.17 L231.98,276.26 L233.09,276.35 L234.21,276.44 L235.32,276.52 L236.43,276.61 L237.54,276.69 L238.65,276.78 L239.76,276.86 L240.87,276.94 L241.98,277.04 L243.09,277.13 L244.20,277.23 L245.32,277.33 L246.43,277.41 L247.54,277.49 L248.65,277.54 L249.76,277.58 L250.87,277.60 L251.98,277.59 L253.09,277.56 L254.20,277.53 L255.31,277.48 L256.43,277.42 L257.54,277.36 L258.65,277.30 L259.76,277.23 L260.87,277.17 L261.98,277.10 L263.09,277.04 L264.20,276.96 L265.31,276.88 L266.42,276.79 L267.54,276.71 L268.65,276.62 L269.76,276.54 L270.87,276.47 L271.98,276.41 L273.09,276.37 L274.20,276.33 L275.31,276.29 L276.42,276.26 L277.53,276.23 L278.64,276.20 L279.76,276.17 L280.87,276.15 L281.98,276.13 L283.09,276.12 L284.20,276.12 L285.31,276.13 L286.42,276.17 L287.53,276.23 L288.64,276.29 L289.75,276.37 L290.87,276.44 L291.98,276.50 L293.09,276.56 L294.20,276.60 L295.31,276.61 L296.42,276.61 L297.53,276.60 L298.64,276.59 L299.75,276.57 L300.87,276.55 L301.98,276.52 L303.09,276.49 L304.20,276.45 L305.31,276.41 L306.42,276.37 L307.53,276.20 L308.64,275.87 L309.75,275.43 L310.86,274.95 L311.98,274.50 L313.09,274.15 L314.20,273.88 L315.31,273.63 L316.42,273.39 L317.53,273.17 L318.64,272.96 L319.75,272.77 L320.86,272.59 L321.97,272.43 L323.08,272.26 L324.20,272.10 L325.31,271.94 L326.42,271.81 L327.53,271.72 L328.64,271.69 L329.75,271.73 L330.86,271.85 L331.97,272.02 L333.08,272.22 L334.19,272.43 L335.31,272.61 L336.42,272.77 L337.53,272.95 L338.64,273.14 L339.75,273.29 L340.86,273.39 L341.97,273.40 L343.08,273.34 L344.19,273.22 L345.31,273.07 L346.42,272.92 L347.53,272.79 L348.64,272.70 L349.75,272.67 L350.86,272.67 L351.97,272.67 L353.08,272.67 L354.19,272.67 L355.30,272.67 L356.42,272.67 L357.53,272.67 L358.64,272.67 L359.75,272.68 L360.86,272.72 L361.97,272.81 L363.08,272.92 L364.19,273.04 L365.30,273.17 L366.41,273.28 L367.52,273.36 L368.64,273.41 L369.75,273.39 L370.86,273.25 L371.97,273.03 L373.08,272.75 L374.19,272.43 L375.30,272.11 L376.41,271.69 L377.52,271.16 L378.63,270.61 L379.75,270.10 L380.86,269.72 L381.97,269.45 L383.08,269.21 L384.19,269.00 L385.30,268.81 L386.41,268.63 L387.52,268.46 L388.63,268.28 L389.75,268.10 L390.86,267.92 L391.97,267.74 L393.08,267.58 L394.19,267.41 L395.30,267.26" fill="none" stroke="#ff0000" stroke-width="1.1" stroke-dasharray="4.2,2.3"/>
<path d="M62.00,267.75 L63.11,267.45 L64.22,267.16 L65.33,266.87 L66.44,266.59 L67.56,266.31 L68.67,266.05 L69.78,265.79 L70.89,265.53 L72.00,265.29 L73.11,265.05 L74.22,264.81 L75.33,264.58 L76.44,264.36 L77.55,264.14 L78.67,263.93 L79.78,263.72 L80.89,263.52 L82.00,263.32 L83.11,263.13 L84.22,262.94 L85.33,262.75 L86.44,262.57 L87.55,262.39 L88.66,262.22 L89.78,262.06 L90.89,261.90 L92.00,261.74 L93.11,261.60 L94.22,261.45 L95.33,261.32 L96.44,261.19 L97.55,261.07 L98.66,260.94 L99.77,260.82 L100.89,260.71 L102.00,260.59 L103.11,260.48 L104.22,260.36 L105.33,260.24 L106.44,260.12 L107.55,259.99 L108.66,259.87 L109.77,259.74 L110.88,259.61 L112.00,259.48 L113.11,259.35 L114.22,259.23 L115.33,259.11 L116.44,259.00 L117.55,258.89 L118.66,258.78 L119.77,258.68 L120.88,258.59 L121.99,258.50 L123.10,258.41 L124.22,258.32 L125.33,258.23 L126.44,258.15 L127.55,258.07 L128.66,257.99 L129.77,257.91 L130.88,257.83 L131.99,257.76 L133.10,257.68 L134.22,257.61 L135.33,257.54 L136.44,257.47 L137.55,257.41 L138.66,257.35 L139.77,257.28 L140.88,257.22 L141.99,257.16 L143.10,257.10 L144.21,257.04 L145.32,256.98 L146.44,256.93 L147.55,256.88 L148.66,256.84 L149.77,256.80 L150.88,256.77 L151.99,256.73 L153.10,256.70 L154.21,256.68 L155.32,256.67 L156.44,256.67 L157.55,256.67 L158.66,256.67 L159.77,256.67 L160.88,256.67 L161.99,256.67 L163.10,256.67 L164.21,256.67 L165.32,256.67 L166.43,256.67 L167.55,256.67 L168.66,256.67 L169.77,256.67 L170.88,256.67 L171.99,256.67 L173.10,256.67 L174.21,256.67 L175.32,256.67 L176.43,256.67 L177.54,256.67 L178.66,256.67 L179.77,256.67 L180.88,256.67 L181.99,256.67 L183.10,256.67 L184.21,256.67 L185.32,256.67 L186.43,256.67 L187.54,256.67 L188.65,256.67 L189.77,256.67 L190.88,256.67 L191.99,256.67 L193.10,256.67 L194.21,256.67 L195.32,256.67 L196.43,256.67 L197.54,256.67 L198.65,256.67 L199.76,256.67 L200.88,256.67 L201.99,256.67 L203.10,256.67 L204.21,256.67 L205.32,256.67 L206.43,256.67 L207.54,256.67 L208.65,256.67 L209.76,256.67 L210.87,256.67 L211.99,256.67 L213.10,256.67 L214.21,256.67 L215.32,256.67 L216.43,256.67 L217.54,256.67 L218.65,256.67 L219.76,256.67 L220.87,256.67 L221.98,256.67 L223.09,256.67 L224.21,256.67 L225.32,256.67 L226.43,256.67 L227.54,256.67 L228.65,256.67 L229.76,256.67 L230.87,256.67 L231.98,256.67 L233.09,256.67 L234.21,256.67 L235.32,256.67 L236.43,256.67 L237.54,256.67 L238.65,256.67 L239.76,256.67 L240.87,256.67 L241.98,256.67 L243.09,256.67 L244.20,256.67 L245.32,256.67 L246.43,256.67 L247.54,256.67 L248.65,256.67 L249.76,256.67 L250.87,256.67 L251.98,256.67 L253.09,256.67 L254.20,256.67 L255.31,256.67 L256.43,256.67 L257.54,256.67 L258.65,256.67 L259.76,256.67 L260.87,256.67 L261.98,256.67 L263.09,256.67 L264.20,256.67 L265.31,256.67 L266.42,256.67 L267.54,256.67 L268.65,256.67 L269.76,256.67 L270.87,256.67 L271.98,256.67 L273.09,256.67 L274.20,256.67 L275.31,256.67 L276.42,256.67 L277.53,256.67 L278.64,256.67 L279.76,256.67 L280.87,256.67 L281.98,256.67 L283.09,256.67 L284.20,256.67 L285.31,256.67 L286.42,256.67 L287.53,256.67 L288.64,256.67 L289.75,256.67 L290.87,256.67 L291.98,256.67 L293.09,256.67 L294.20,256.67 L295.31,256.67 L296.42,256.67 L297.53,256.67 L298.64,256.67 L299.75,256.67 L300.87,256.67 L301.98,256.67 L303.09,256.67 L304.20,256.67 L305.31,256.67 L306.42,256.67 L307.53,256.67 L308.64,256.67 L309.75,256.67 L310.86,256.67 L311.98,256.67 L313.09,256.67 L314.20,256.67 L315.31,256.67 L316.42,256.67 L317.53,256.67 L318.64,256.67 L319.75,256.67 L320.86,256.67 L321.97,256.67 L323.08,256.67 L324.20,256.67 L325.31,256.67 L326.42,256.67 L327.53,256.67 L328.64,256.67 L329.75,256.67 L330.86,256.67 L331.97,256.67 L333.08,256.67 L334.19,256.67 L335.31,256.67 L336.42,256.67 L337.53,256.67 L338.64,256.67 L339.75,256.67 L340.86,256.67 L341.97,256.67 L343.08,256.67 L344.19,256.67 L345.31,256.67 L346.42,256.67 L347.53,256.67 L348.64,256.67 L349.75,256.67 L350.86,256.67 L351.97,256.67 L353.08,256.67 L354.19,256.67 L355.30,256.67 L356.42,256.67 L357.53,256.67 L358.64,256.67 L359.75,256.67 L360.86,256.67 L361.97,256.67 L363.08,256.67 L364.19,256.67 L365.30,256.67 L366.41,256.67 L367.52,256.67 L368.64,256.67 L369.75,256.67 L370.86,256.67 L371.97,256.67 L373.08,256.67 L374.19,256.67 L375.30,256.67 L376.41,256.67 L377.52,256.67 L378.63,256.67 L379.75,256.67 L380.86,256.67 L381.97,256.67 L383.08,256.67 L384.19,256.67 L385.30,256.67 L386.41,256.67 L387.52,256.67 L388.63,256.67 L389.75,256.67 L390.86,256.67 L391.97,256.67 L393.08,256.67 L394.19,256.67 L395.30,256.67 L395.30,322.40 L394.19,321.72 L393.08,321.06 L391.97,320.42 L390.86,319.79 L389.75,319.18 L388.63,318.58 L387.52,317.91 L386.41,317.18 L385.30,316.51 L384.19,316.00 L383.08,315.76 L381.97,315.80 L380.86,315.97 L379.75,316.22 L378.63,316.49 L377.52,316.74 L376.41,316.99 L375.30,317.29 L374.19,317.55 L373.08,317.71 L371.97,317.67 L370.86,317.39 L369.75,316.94 L368.64,316.42 L367.52,315.93 L366.41,315.50 L365.30,315.04 L364.19,314.56 L363.08,314.09 L361.97,313.63 L360.86,313.23 L359.75,312.90 L358.64,312.66 L357.53,312.45 L356.42,312.26 L355.30,312.10 L354.19,311.95 L353.08,311.80 L351.97,311.66 L350.86,311.51 L349.75,311.35 L348.64,311.19 L347.53,311.02 L346.42,310.86 L345.31,310.70 L344.19,310.53 L343.08,310.36 L341.97,310.20 L340.86,310.02 L339.75,309.84 L338.64,309.67 L337.53,309.49 L336.42,309.32 L335.31,309.14 L334.19,308.96 L333.08,308.77 L331.97,308.57 L330.86,308.36 L329.75,308.13 L328.64,307.87 L327.53,307.57 L326.42,307.20 L325.31,306.79 L324.20,306.38 L323.08,305.99 L321.97,305.66 L320.86,305.37 L319.75,305.11 L318.64,304.86 L317.53,304.62 L316.42,304.40 L315.31,304.18 L314.20,303.96 L313.09,303.73 L311.98,303.50 L310.86,303.28 L309.75,303.08 L308.64,302.91 L307.53,302.78 L306.42,302.70 L305.31,302.66 L304.20,302.62 L303.09,302.59 L301.98,302.55 L300.87,302.53 L299.75,302.50 L298.64,302.48 L297.53,302.47 L296.42,302.46 L295.31,302.46 L294.20,302.46 L293.09,302.46 L291.98,302.46 L290.87,302.46 L289.75,302.46 L288.64,302.46 L287.53,302.46 L286.42,302.46 L285.31,302.46 L284.20,302.46 L283.09,302.40 L281.98,302.23 L280.87,301.99 L279.76,301.70 L278.64,301.37 L277.53,301.05 L276.42,300.74 L275.31,300.49 L274.20,300.24 L273.09,299.97 L271.98,299.71 L270.87,299.48 L269.76,299.32 L268.65,299.26 L267.54,299.28 L266.42,299.35 L265.31,299.45 L264.20,299.55 L263.09,299.66 L261.98,299.75 L260.87,299.83 L259.76,299.90 L258.65,299.98 L257.54,300.05 L256.43,300.13 L255.31,300.20 L254.20,300.27 L253.09,300.34 L251.98,300.42 L250.87,300.49 L249.76,300.56 L248.65,300.64 L247.54,300.71 L246.43,300.79 L245.32,300.86 L244.20,300.94 L243.09,301.01 L241.98,301.09 L240.87,301.16 L239.76,301.23 L238.65,301.30 L237.54,301.36 L236.43,301.42 L235.32,301.48 L234.21,301.54 L233.09,301.60 L231.98,301.66 L230.87,301.73 L229.76,301.80 L228.65,301.87 L227.54,301.95 L226.43,302.04 L225.32,302.15 L224.21,302.28 L223.09,302.42 L221.98,302.55 L220.87,302.68 L219.76,302.79 L218.65,302.89 L217.54,302.95 L216.43,302.99 L215.32,303.03 L214.21,303.06 L213.10,303.09 L211.99,303.11 L210.87,303.14 L209.76,303.17 L208.65,303.20 L207.54,303.24 L206.43,303.28 L205.32,303.33 L204.21,303.39 L203.10,303.44 L201.99,303.50 L200.88,303.55 L199.76,303.59 L198.65,303.63 L197.54,303.66 L196.43,303.68 L195.32,303.69 L194.21,303.69 L193.10,303.69 L191.99,303.69 L190.88,303.69 L189.77,303.69 L188.65,303.69 L187.54,303.69 L186.43,303.69 L185.32,303.69 L184.21,303.69 L183.10,303.69 L181.99,303.69 L180.88,303.69 L179.77,303.69 L178.66,303.69 L177.54,303.69 L176.43,303.69 L175.32,303.68 L174.21,303.67 L173.10,303.66 L171.99,303.65 L170.88,303.63 L169.77,303.61 L168.66,303.59 L167.55,303.57 L166.43,303.55 L165.32,303.52 L164.21,303.50 L163.10,303.47 L161.99,303.44 L160.88,303.42 L159.77,303.38 L158.66,303.35 L157.55,303.31 L156.44,303.26 L155.32,303.21 L154.21,303.16 L153.10,303.11 L151.99,303.06 L150.88,303.00 L149.77,302.94 L148.66,302.87 L147.55,302.79 L146.44,302.71 L145.32,302.62 L144.21,302.53 L143.10,302.43 L141.99,302.33 L140.88,302.23 L139.77,302.14 L138.66,302.05 L137.55,301.97 L136.44,301.89 L135.33,301.82 L134.22,301.75 L133.10,301.68 L131.99,301.61 L130.88,301.55 L129.77,301.47 L128.66,301.40 L127.55,301.32 L126.44,301.23 L125.33,301.13 L124.22,301.02 L123.10,300.89 L121.99,300.77 L120.88,300.63 L119.77,300.50 L118.66,300.37 L117.55,300.24 L116.44,300.12 L115.33,299.99 L114.22,299.86 L113.11,299.73 L112.00,299.60 L110.88,299.47 L109.77,299.35 L108.66,299.23 L107.55,299.12 L106.44,299.01 L105.33,298.92 L104.22,298.83 L103.11,298.75 L102.00,298.68 L100.89,298.61 L99.77,298.54 L98.66,298.47 L97.55,298.39 L96.44,298.32 L95.33,298.23 L94.22,298.13 L93.11,298.03 L92.00,297.90 L90.89,297.73 L89.78,297.54 L88.66,297.33 L87.55,297.12 L86.44,296.91 L85.33,296.72 L84.22,296.55 L83.11,296.40 L82.00,296.30 L80.89,296.24 L79.78,296.18 L78.67,296.13 L77.55,296.09 L76.44,296.06 L75.33,296.02 L74.22,295.98 L73.11,295.94 L72.00,295.88 L70.89,295.81 L69.78,295.72 L68.67,295.61 L67.56,295.47 L66.44,295.32 L65.33,295.15 L64.22,294.97 L63.11,294.78 L62.00,294.58Z" fill="url(#hx)" stroke="#4a4aff" stroke-width="1.1"/>
<line x1="62.0" y1="280.55" x2="395.3" y2="280.55" stroke="#6464e6" stroke-width="3.0"/>
<line x1="62.0" y1="280.55" x2="395.3" y2="280.55" stroke="#4848dc" stroke-width="1.0"/>
</g>
<g stroke="#000" stroke-opacity="0.17" stroke-width="1.1" fill="none">
<line x1="106.44" y1="206.7" x2="106.44" y2="354.4"/>
<line x1="150.88" y1="206.7" x2="150.88" y2="354.4"/>
<line x1="195.32" y1="206.7" x2="195.32" y2="354.4"/>
<line x1="239.76" y1="206.7" x2="239.76" y2="354.4"/>
<line x1="284.20" y1="206.7" x2="284.20" y2="354.4"/>
<line x1="328.64" y1="206.7" x2="328.64" y2="354.4"/>
<line x1="373.08" y1="206.7" x2="373.08" y2="354.4"/>
<line x1="62.0" y1="329.78" x2="395.3" y2="329.78"/>
<line x1="62.0" y1="305.17" x2="395.3" y2="305.17"/>
<line x1="62.0" y1="280.55" x2="395.3" y2="280.55"/>
<line x1="62.0" y1="255.93" x2="395.3" y2="255.93"/>
<line x1="62.0" y1="231.32" x2="395.3" y2="231.32"/>
</g>
<g stroke="#000" stroke-opacity="0.17" stroke-width="1.1" fill="none">
<line x1="106.44" y1="39.3" x2="106.44" y2="179.0"/>
<line x1="150.88" y1="39.3" x2="150.88" y2="179.0"/>
<line x1="195.32" y1="39.3" x2="195.32" y2="179.0"/>
<line x1="239.76" y1="39.3" x2="239.76" y2="179.0"/>
<line x1="284.20" y1="39.3" x2="284.20" y2="179.0"/>
<line x1="328.64" y1="39.3" x2="328.64" y2="179.0"/>
<line x1="373.08" y1="39.3" x2="373.08" y2="179.0"/>
<line x1="62.0" y1="155.72" x2="395.3" y2="155.72"/>
<line x1="62.0" y1="132.43" x2="395.3" y2="132.43"/>
<line x1="62.0" y1="109.15" x2="395.3" y2="109.15"/>
<line x1="62.0" y1="85.87" x2="395.3" y2="85.87"/>
<line x1="62.0" y1="62.58" x2="395.3" y2="62.58"/>
</g>
<rect x="128" y="39.3" width="267.3" height="43.00" fill="#fff"/>
<g stroke="#000" stroke-width="1.7" fill="none">
<rect x="62.0" y="39.3" width="333.3" height="139.7"/>
<rect x="62.0" y="206.7" width="333.3" height="147.7"/>
</g>
<g stroke="#000" stroke-width="1.4" fill="none">
<line x1="106.44" y1="39.3" x2="106.44" y2="44.099999999999994"/>
<line x1="106.44" y1="179.0" x2="106.44" y2="174.2"/>
<line x1="106.44" y1="206.7" x2="106.44" y2="211.5"/>
<line x1="106.44" y1="354.4" x2="106.44" y2="349.59999999999997"/>
<line x1="150.88" y1="39.3" x2="150.88" y2="44.099999999999994"/>
<line x1="150.88" y1="179.0" x2="150.88" y2="174.2"/>
<line x1="150.88" y1="206.7" x2="150.88" y2="211.5"/>
<line x1="150.88" y1="354.4" x2="150.88" y2="349.59999999999997"/>
<line x1="195.32" y1="39.3" x2="195.32" y2="44.099999999999994"/>
<line x1="195.32" y1="179.0" x2="195.32" y2="174.2"/>
<line x1="195.32" y1="206.7" x2="195.32" y2="211.5"/>
<line x1="195.32" y1="354.4" x2="195.32" y2="349.59999999999997"/>
<line x1="239.76" y1="39.3" x2="239.76" y2="44.099999999999994"/>
<line x1="239.76" y1="179.0" x2="239.76" y2="174.2"/>
<line x1="239.76" y1="206.7" x2="239.76" y2="211.5"/>
<line x1="239.76" y1="354.4" x2="239.76" y2="349.59999999999997"/>
<line x1="284.20" y1="39.3" x2="284.20" y2="44.099999999999994"/>
<line x1="284.20" y1="179.0" x2="284.20" y2="174.2"/>
<line x1="284.20" y1="206.7" x2="284.20" y2="211.5"/>
<line x1="284.20" y1="354.4" x2="284.20" y2="349.59999999999997"/>
<line x1="328.64" y1="39.3" x2="328.64" y2="44.099999999999994"/>
<line x1="328.64" y1="179.0" x2="328.64" y2="174.2"/>
<line x1="328.64" y1="206.7" x2="328.64" y2="211.5"/>
<line x1="328.64" y1="354.4" x2="328.64" y2="349.59999999999997"/>
<line x1="373.08" y1="39.3" x2="373.08" y2="44.099999999999994"/>
<line x1="373.08" y1="179.0" x2="373.08" y2="174.2"/>
<line x1="373.08" y1="206.7" x2="373.08" y2="211.5"/>
<line x1="373.08" y1="354.4" x2="373.08" y2="349.59999999999997"/>
<line x1="62.0" y1="155.72" x2="66.8" y2="155.72"/>
<line x1="395.3" y1="155.72" x2="390.5" y2="155.72"/>
<line x1="62.0" y1="132.43" x2="66.8" y2="132.43"/>
<line x1="395.3" y1="132.43" x2="390.5" y2="132.43"/>
<line x1="62.0" y1="109.15" x2="66.8" y2="109.15"/>
<line x1="395.3" y1="109.15" x2="390.5" y2="109.15"/>
<line x1="62.0" y1="85.87" x2="66.8" y2="85.87"/>
<line x1="395.3" y1="85.87" x2="390.5" y2="85.87"/>
<line x1="62.0" y1="62.58" x2="66.8" y2="62.58"/>
<line x1="395.3" y1="62.58" x2="390.5" y2="62.58"/>
<line x1="62.0" y1="349.48" x2="64.4" y2="349.48"/>
<line x1="395.3" y1="349.48" x2="392.90000000000003" y2="349.48"/>
<line x1="62.0" y1="344.55" x2="64.4" y2="344.55"/>
<line x1="395.3" y1="344.55" x2="392.90000000000003" y2="344.55"/>
<line x1="62.0" y1="339.63" x2="64.4" y2="339.63"/>
<line x1="395.3" y1="339.63" x2="392.90000000000003" y2="339.63"/>
<line x1="62.0" y1="334.71" x2="64.4" y2="334.71"/>
<line x1="395.3" y1="334.71" x2="392.90000000000003" y2="334.71"/>
<line x1="62.0" y1="329.78" x2="66.8" y2="329.78"/>
<line x1="395.3" y1="329.78" x2="390.5" y2="329.78"/>
<line x1="62.0" y1="324.86" x2="64.4" y2="324.86"/>
<line x1="395.3" y1="324.86" x2="392.90000000000003" y2="324.86"/>
<line x1="62.0" y1="319.94" x2="64.4" y2="319.94"/>
<line x1="395.3" y1="319.94" x2="392.90000000000003" y2="319.94"/>
<line x1="62.0" y1="315.01" x2="64.4" y2="315.01"/>
<line x1="395.3" y1="315.01" x2="392.90000000000003" y2="315.01"/>
<line x1="62.0" y1="310.09" x2="64.4" y2="310.09"/>
<line x1="395.3" y1="310.09" x2="392.90000000000003" y2="310.09"/>
<line x1="62.0" y1="305.17" x2="66.8" y2="305.17"/>
<line x1="395.3" y1="305.17" x2="390.5" y2="305.17"/>
<line x1="62.0" y1="300.24" x2="64.4" y2="300.24"/>
<line x1="395.3" y1="300.24" x2="392.90000000000003" y2="300.24"/>
<line x1="62.0" y1="295.32" x2="64.4" y2="295.32"/>
<line x1="395.3" y1="295.32" x2="392.90000000000003" y2="295.32"/>
<line x1="62.0" y1="290.40" x2="64.4" y2="290.40"/>
<line x1="395.3" y1="290.40" x2="392.90000000000003" y2="290.40"/>
<line x1="62.0" y1="285.47" x2="64.4" y2="285.47"/>
<line x1="395.3" y1="285.47" x2="392.90000000000003" y2="285.47"/>
<line x1="62.0" y1="280.55" x2="66.8" y2="280.55"/>
<line x1="395.3" y1="280.55" x2="390.5" y2="280.55"/>
<line x1="62.0" y1="275.63" x2="64.4" y2="275.63"/>
<line x1="395.3" y1="275.63" x2="392.90000000000003" y2="275.63"/>
<line x1="62.0" y1="270.70" x2="64.4" y2="270.70"/>
<line x1="395.3" y1="270.70" x2="392.90000000000003" y2="270.70"/>
<line x1="62.0" y1="265.78" x2="64.4" y2="265.78"/>
<line x1="395.3" y1="265.78" x2="392.90000000000003" y2="265.78"/>
<line x1="62.0" y1="260.86" x2="64.4" y2="260.86"/>
<line x1="395.3" y1="260.86" x2="392.90000000000003" y2="260.86"/>
<line x1="62.0" y1="255.93" x2="66.8" y2="255.93"/>
<line x1="395.3" y1="255.93" x2="390.5" y2="255.93"/>
<line x1="62.0" y1="251.01" x2="64.4" y2="251.01"/>
<line x1="395.3" y1="251.01" x2="392.90000000000003" y2="251.01"/>
<line x1="62.0" y1="246.09" x2="64.4" y2="246.09"/>
<line x1="395.3" y1="246.09" x2="392.90000000000003" y2="246.09"/>
<line x1="62.0" y1="241.16" x2="64.4" y2="241.16"/>
<line x1="395.3" y1="241.16" x2="392.90000000000003" y2="241.16"/>
<line x1="62.0" y1="236.24" x2="64.4" y2="236.24"/>
<line x1="395.3" y1="236.24" x2="392.90000000000003" y2="236.24"/>
<line x1="62.0" y1="231.32" x2="66.8" y2="231.32"/>
<line x1="395.3" y1="231.32" x2="390.5" y2="231.32"/>
<line x1="62.0" y1="226.39" x2="64.4" y2="226.39"/>
<line x1="395.3" y1="226.39" x2="392.90000000000003" y2="226.39"/>
<line x1="62.0" y1="221.47" x2="64.4" y2="221.47"/>
<line x1="395.3" y1="221.47" x2="392.90000000000003" y2="221.47"/>
<line x1="62.0" y1="216.55" x2="64.4" y2="216.55"/>
<line x1="395.3" y1="216.55" x2="392.90000000000003" y2="216.55"/>
<line x1="62.0" y1="211.62" x2="64.4" y2="211.62"/>
<line x1="395.3" y1="211.62" x2="392.90000000000003" y2="211.62"/>
</g>
<text transform="translate(54.6,180.8) scale(1,1.06)" text-anchor="end">0</text>
<text transform="translate(54.6,157.52) scale(1,1.06)" text-anchor="end">5</text>
<text transform="translate(54.6,134.23) scale(1,1.06)" text-anchor="end">10</text>
<text transform="translate(54.6,110.95) scale(1,1.06)" text-anchor="end">15</text>
<text transform="translate(54.6,87.67) scale(1,1.06)" text-anchor="end">20</text>
<text transform="translate(54.6,64.38) scale(1,1.06)" text-anchor="end">25</text>
<text transform="translate(54.6,41.1) scale(1,1.06)" text-anchor="end">30</text>
<text transform="translate(54.6,356.2) scale(1,1.06)" text-anchor="end">0.7</text>
<text transform="translate(54.6,331.58) scale(1,1.06)" text-anchor="end">0.8</text>
<text transform="translate(54.6,306.97) scale(1,1.06)" text-anchor="end">0.9</text>
<text transform="translate(54.6,282.35) scale(1,1.06)" text-anchor="end">1</text>
<text transform="translate(54.6,257.73) scale(1,1.06)" text-anchor="end">1.1</text>
<text transform="translate(54.6,233.12) scale(1,1.06)" text-anchor="end">1.2</text>
<text transform="translate(54.6,208.5) scale(1,1.06)" text-anchor="end">1.3</text>
<text transform="translate(63.3,194.4) scale(1,1.06)" text-anchor="middle">20</text>
<text transform="translate(63.3,369.5) scale(1,1.06)" text-anchor="middle">20</text>
<text transform="translate(107.74,194.4) scale(1,1.06)" text-anchor="middle">40</text>
<text transform="translate(107.74,369.5) scale(1,1.06)" text-anchor="middle">40</text>
<text transform="translate(152.18,194.4) scale(1,1.06)" text-anchor="middle">60</text>
<text transform="translate(152.18,369.5) scale(1,1.06)" text-anchor="middle">60</text>
<text transform="translate(196.62,194.4) scale(1,1.06)" text-anchor="middle">80</text>
<text transform="translate(196.62,369.5) scale(1,1.06)" text-anchor="middle">80</text>
<text transform="translate(241.06,194.4) scale(1,1.06)" text-anchor="middle">100</text>
<text transform="translate(241.06,369.5) scale(1,1.06)" text-anchor="middle">100</text>
<text transform="translate(285.5,194.4) scale(1,1.06)" text-anchor="middle">120</text>
<text transform="translate(285.5,369.5) scale(1,1.06)" text-anchor="middle">120</text>
<text transform="translate(329.94,194.4) scale(1,1.06)" text-anchor="middle">140</text>
<text transform="translate(329.94,369.5) scale(1,1.06)" text-anchor="middle">140</text>
<text transform="translate(374.38,194.4) scale(1,1.06)" text-anchor="middle">160</text>
<text transform="translate(374.38,369.5) scale(1,1.06)" text-anchor="middle">160</text>
<text transform="translate(177.4,21.5) scale(1,1.06)" text-anchor="start" textLength="103.40" lengthAdjust="spacing">1-jet cross section</text>
<text transform="translate(142.5,56.5) scale(1,1.06)" text-anchor="start" textLength="197.60" lengthAdjust="spacing">NNLO+NNLL+LL<tspan font-size="10.08" dy="3.00">R</tspan><tspan dy="-3.00"> (scale variation)</tspan></text>
<text transform="translate(200.7,75.0) scale(1,1.06)" text-anchor="start" textLength="139.40" lengthAdjust="spacing">NNLO+NNLL+LL<tspan font-size="10.08" dy="3.00">R</tspan><tspan dy="-3.00"> (JVE)</tspan></text>
<rect x="347.1" y="48.4" width="34.7" height="10.4" fill="#ffaa7f"/>
<rect x="347.1" y="67.4" width="34.7" height="10.4" fill="url(#hx)" stroke="#5555ff" stroke-width="1.0"/>
<text transform="translate(258.9,218.2) scale(1,1.06)" text-anchor="start" class="g" style="font-size:10.9px" textLength="123.00" lengthAdjust="spacing">pp 13 TeV, anti-k<tspan font-size="8.72" dy="2.60">t</tspan><tspan dy="-2.60"> R = 0.4</tspan></text>
<text transform="translate(161.4,233.5) scale(1,1.06)" text-anchor="start" class="g" style="font-size:10.9px" textLength="220.60" lengthAdjust="spacing">Finite m<tspan font-size="8.72" dy="2.60">t,b</tspan><tspan dy="-2.60">, <tspan font-style="italic">μ</tspan></tspan><tspan font-size="8.72" dy="2.60">0</tspan><tspan dy="-2.60"> = m</tspan><tspan font-size="8.72" dy="2.60">H</tspan><tspan dy="-2.60">, Q</tspan><tspan font-size="8.72" dy="2.60">0</tspan><tspan dy="-2.60"> = m</tspan><tspan font-size="8.72" dy="2.60">H</tspan><tspan dy="-2.60">/2, R</tspan><tspan font-size="8.72" dy="2.60">0</tspan><tspan dy="-2.60"> = 1.0, JVE</tspan></text>
<text transform="translate(231.9,248.6) scale(1,1.06)" text-anchor="start" class="g" style="font-size:10.9px" textLength="150.00" lengthAdjust="spacing">NNPDF2.3 (NNLO), α<tspan font-size="8.72" dy="2.60">s</tspan><tspan dy="-2.60"> = 0.118</tspan></text>
<text transform="translate(196.2,389.6) scale(1,1.06)" text-anchor="start" textLength="64.80" lengthAdjust="spacing">p<tspan font-size="10.08" dy="3.00">t,min</tspan><tspan dy="-3.00"> [GeV]</tspan></text>
<text transform="translate(21.2,157.6) rotate(-90) scale(0.915,1)" text-anchor="start" textLength="36.28" lengthAdjust="spacing">Σ<tspan font-size="10.08" dy="4.20">≥ 1-jet</tspan></text>
<text transform="translate(21.2,124.6) rotate(-90) scale(0.915,1)" text-anchor="start" textLength="69.73" lengthAdjust="spacing">(p<tspan font-size="10.08" dy="4.20">t,min</tspan><tspan dy="-4.20">) [pb]</tspan></text>
<text transform="translate(21.4,357.2) rotate(-90) scale(0.915,1)" text-anchor="start" textLength="178.91" lengthAdjust="spacing">ratio to NNLO+NNLL+LL<tspan font-size="10.08" dy="3.40">R</tspan><tspan dy="-3.40"> (JVE)</tspan></text>
</svg></body></html>
